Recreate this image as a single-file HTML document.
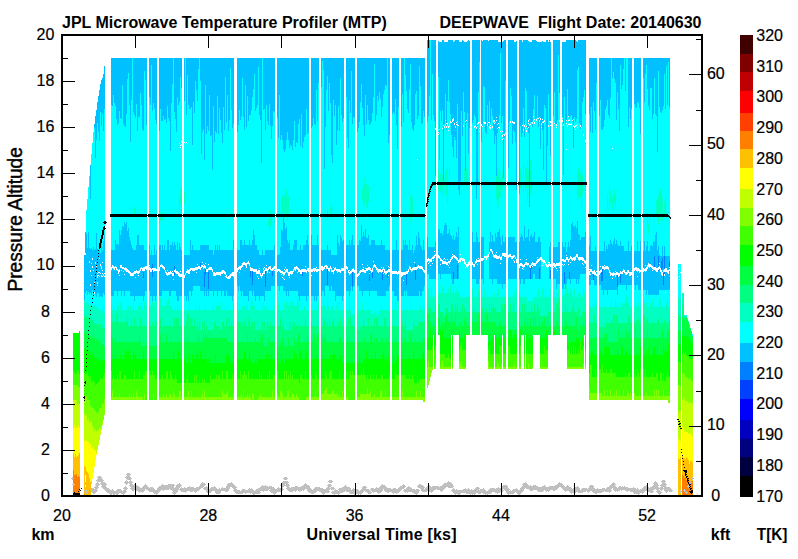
<!DOCTYPE html>
<html><head><meta charset="utf-8"><title>JPL Microwave Temperature Profiler (MTP)</title>
<style>
html,body{margin:0;padding:0;background:#fff;overflow:hidden}
svg{display:block}
text{font-family:"Liberation Sans",Arial,Helvetica,sans-serif;fill:#000}
.t{font-size:16px;stroke:#000;stroke-width:.2px}
.b{font-size:16px;font-weight:bold}
.p{font-size:20px;stroke:#000;stroke-width:.45px}
</style></head>
<body>
<svg width="798" height="559" viewBox="0 0 798 559">
<rect width="798" height="559" fill="#fff"/>
<g shape-rendering="crispEdges" fill="none" stroke-width="1">
<path stroke="#c0c0c0" d="M71.5 478v1M72.5 477v3M72.5 484v1M73.5 478v1M73.5 483v3M74.5 484v1M84.5 490v1M85.5 482v3M85.5 489v4M86.5 490v4M87.5 492v1M91.5 488v4M92.5 488v5M93.5 488v6M94.5 487v1M94.5 489v5M95.5 484v1M95.5 486v7M96.5 480v1M96.5 483v9M97.5 477v1M97.5 479v10M97.5 490v1M98.5 476v6M98.5 483v3M98.5 487v1M99.5 476v6M99.5 484v1M100.5 476v6M100.5 483v1M101.5 477v8M101.5 486v1M102.5 479v9M103.5 480v1M103.5 482v7M104.5 482v8M105.5 483v8M106.5 484v1M106.5 487v5M107.5 488v5M108.5 488v5M109.5 489v5M110.5 490v5M111.5 490v5M112.5 489v5M113.5 490v5M114.5 491v4M115.5 491v3M116.5 490v5M117.5 489v6M118.5 489v5M119.5 489v4M120.5 489v4M121.5 490v4M122.5 491v3M123.5 488v1M123.5 490v5M124.5 482v1M124.5 487v7M125.5 477v1M125.5 481v3M125.5 486v7M126.5 474v1M126.5 476v3M126.5 480v5M126.5 487v3M126.5 491v1M127.5 473v7M127.5 481v3M127.5 488v1M128.5 473v7M128.5 482v1M129.5 473v7M129.5 481v3M129.5 485v1M130.5 474v1M130.5 477v10M130.5 488v1M131.5 478v1M131.5 481v9M132.5 482v1M132.5 484v7M133.5 485v6M134.5 484v6M135.5 484v6M136.5 485v6M137.5 486v5M138.5 486v6M139.5 487v6M140.5 488v4M141.5 488v4M142.5 487v6M143.5 486v6M144.5 485v6M145.5 484v5M146.5 485v5M147.5 486v4M148.5 487v4M149.5 488v4M150.5 487v5M151.5 487v5M152.5 487v5M153.5 488v5M154.5 489v5M155.5 490v4M156.5 490v5M157.5 488v6M158.5 487v6M159.5 486v6M160.5 486v5M161.5 485v5M162.5 484v6M163.5 485v6M164.5 485v5M165.5 485v5M166.5 485v5M167.5 485v5M168.5 484v6M169.5 484v5M170.5 484v6M171.5 484v6M172.5 484v7M172.5 492v1M173.5 484v10M174.5 485v1M174.5 488v7M175.5 487v7M176.5 485v8M177.5 484v8M178.5 484v6M179.5 483v5M179.5 489v1M180.5 484v3M180.5 488v3M181.5 485v1M181.5 487v5M182.5 488v4M183.5 488v4M184.5 487v5M185.5 488v5M186.5 488v4M187.5 487v4M188.5 487v4M189.5 486v5M190.5 487v5M191.5 487v5M192.5 487v5M193.5 487v4M194.5 488v4M195.5 488v5M196.5 487v5M197.5 487v4M198.5 487v4M199.5 486v4M200.5 484v5M201.5 483v5M202.5 482v6M203.5 483v4M203.5 488v1M204.5 483v3M204.5 487v3M205.5 484v1M205.5 487v3M206.5 486v6M207.5 487v6M208.5 488v5M209.5 489v4M210.5 488v5M211.5 487v5M212.5 487v4M213.5 487v4M214.5 486v5M215.5 487v6M216.5 488v6M217.5 489v5M218.5 489v5M219.5 488v6M220.5 489v4M221.5 488v3M222.5 487v4M223.5 488v3M224.5 488v3M225.5 488v4M226.5 486v6M227.5 484v8M228.5 483v8M229.5 483v6M230.5 483v4M231.5 482v5M232.5 483v5M233.5 484v5M233.5 490v1M234.5 485v7M235.5 486v7M236.5 487v1M236.5 489v5M237.5 490v4M238.5 490v4M239.5 490v4M240.5 491v3M241.5 490v4M242.5 489v5M243.5 489v4M244.5 489v4M245.5 490v4M246.5 490v3M247.5 490v3M248.5 489v4M249.5 488v5M250.5 489v5M251.5 488v5M252.5 489v5M253.5 490v5M254.5 491v4M255.5 490v4M256.5 489v5M257.5 489v5M258.5 488v6M259.5 488v6M260.5 487v4M260.5 492v1M261.5 486v5M262.5 485v6M263.5 486v6M264.5 486v5M265.5 485v6M266.5 486v5M267.5 486v5M268.5 487v3M269.5 486v3M269.5 490v1M270.5 486v6M271.5 486v7M272.5 487v6M273.5 487v7M274.5 488v7M275.5 489v5M276.5 489v4M277.5 488v4M278.5 487v5M279.5 488v4M280.5 485v1M280.5 488v4M281.5 483v4M281.5 488v3M282.5 482v9M283.5 478v1M283.5 481v6M283.5 489v1M284.5 477v3M284.5 481v5M285.5 477v3M285.5 481v3M285.5 485v1M286.5 477v3M286.5 481v6M286.5 488v1M287.5 478v1M287.5 481v9M288.5 482v1M288.5 484v7M289.5 485v1M289.5 487v5M290.5 488v4M291.5 487v5M292.5 487v5M293.5 487v4M294.5 487v4M295.5 486v6M296.5 486v5M297.5 486v4M298.5 487v4M299.5 487v5M300.5 487v4M301.5 486v5M302.5 486v4M303.5 485v6M304.5 484v6M305.5 483v6M306.5 484v5M307.5 485v6M308.5 485v7M309.5 486v7M310.5 488v5M311.5 489v5M312.5 490v4M313.5 489v5M314.5 488v5M315.5 487v6M316.5 487v5M317.5 487v4M318.5 487v4M319.5 487v5M320.5 488v4M321.5 488v5M322.5 488v6M323.5 489v6M324.5 489v5M325.5 489v4M326.5 488v5M327.5 485v1M327.5 487v6M328.5 481v1M328.5 484v9M329.5 480v3M329.5 484v6M329.5 491v1M330.5 480v3M330.5 484v3M330.5 488v1M331.5 480v3M331.5 485v1M331.5 487v3M331.5 492v1M332.5 481v1M332.5 487v3M332.5 491v3M333.5 487v3M333.5 491v3M334.5 488v1M334.5 490v5M335.5 489v5M336.5 490v4M337.5 490v4M338.5 489v1M338.5 491v4M339.5 488v6M340.5 488v5M341.5 488v5M342.5 487v6M343.5 487v5M344.5 486v6M345.5 485v6M346.5 486v6M347.5 487v5M348.5 487v5M349.5 487v6M350.5 488v6M351.5 490v4M352.5 489v5M353.5 488v6M354.5 489v6M355.5 489v6M356.5 489v5M357.5 489v5M358.5 490v5M359.5 491v3M360.5 490v5M361.5 489v5M362.5 487v6M363.5 486v6M364.5 486v5M365.5 486v6M366.5 487v1M366.5 489v3M367.5 489v4M368.5 489v5M369.5 490v4M370.5 489v1M370.5 491v3M371.5 488v3M371.5 492v1M372.5 488v4M373.5 488v5M374.5 489v3M375.5 488v4M376.5 487v5M377.5 488v5M378.5 488v6M379.5 487v6M380.5 486v7M381.5 485v7M382.5 484v7M383.5 485v4M384.5 485v6M385.5 486v6M386.5 487v5M387.5 488v5M388.5 488v5M389.5 488v4M390.5 488v4M391.5 489v3M392.5 489v4M393.5 488v6M394.5 488v5M395.5 488v5M396.5 489v5M397.5 489v4M398.5 488v5M399.5 487v5M400.5 486v5M401.5 486v4M402.5 485v4M403.5 484v5M403.5 490v1M404.5 485v3M404.5 489v3M405.5 486v1M405.5 489v4M406.5 488v4M407.5 487v6M408.5 486v6M409.5 487v5M410.5 487v5M411.5 488v4M412.5 489v4M413.5 489v4M414.5 489v5M415.5 490v4M416.5 489v6M417.5 486v1M417.5 489v5M418.5 485v3M418.5 489v4M419.5 484v4M419.5 490v1M420.5 484v5M421.5 485v6M422.5 485v7M423.5 486v6M424.5 487v1M424.5 489v3M425.5 488v4M426.5 487v5M427.5 486v5M428.5 485v6M429.5 485v7M430.5 486v6M431.5 487v6M432.5 486v6M433.5 486v5M434.5 486v4M435.5 486v4M436.5 486v3M437.5 486v4M438.5 486v4M439.5 487v3M440.5 486v5M441.5 486v6M442.5 485v6M443.5 484v6M444.5 483v6M445.5 483v5M446.5 483v4M447.5 482v5M448.5 481v7M449.5 482v6M450.5 482v6M451.5 483v5M451.5 490v1M452.5 484v4M452.5 489v3M453.5 486v1M453.5 488v5M454.5 489v5M455.5 490v5M456.5 489v5M457.5 490v4M458.5 490v5M459.5 490v5M460.5 490v4M461.5 490v3M462.5 490v3M463.5 489v4M464.5 489v4M465.5 488v5M466.5 489v5M467.5 489v5M468.5 488v6M469.5 489v5M470.5 490v5M471.5 489v5M472.5 490v5M473.5 490v4M474.5 489v6M475.5 488v6M476.5 487v6M477.5 487v6M478.5 487v7M479.5 488v1M479.5 490v4M480.5 489v5M481.5 489v4M482.5 489v4M483.5 488v6M484.5 489v5M485.5 490v5M486.5 491v3M487.5 491v4M488.5 490v4M489.5 489v5M490.5 488v6M491.5 488v5M492.5 488v4M493.5 488v4M494.5 488v4M495.5 489v4M496.5 488v5M497.5 488v6M498.5 487v6M499.5 488v5M500.5 488v4M501.5 487v5M502.5 486v6M503.5 485v4M503.5 490v1M504.5 485v5M505.5 485v6M506.5 485v8M507.5 486v8M508.5 488v7M509.5 489v1M509.5 491v3M510.5 490v4M511.5 491v3M512.5 490v4M513.5 489v5M514.5 489v4M515.5 489v3M516.5 488v5M517.5 489v5M518.5 490v5M519.5 490v5M520.5 488v6M521.5 487v6M522.5 484v1M522.5 486v6M523.5 483v8M524.5 483v6M525.5 482v6M526.5 483v6M527.5 484v5M528.5 485v4M529.5 486v4M530.5 485v6M531.5 486v5M532.5 486v5M533.5 485v5M534.5 485v5M535.5 485v5M536.5 486v4M537.5 486v5M538.5 487v5M539.5 487v5M540.5 487v5M541.5 487v5M542.5 486v6M543.5 486v5M544.5 485v5M545.5 486v5M546.5 487v5M547.5 487v4M548.5 487v5M549.5 486v5M550.5 486v4M551.5 486v4M552.5 486v4M553.5 486v5M554.5 486v5M555.5 485v5M556.5 485v5M557.5 484v5M558.5 483v5M559.5 482v5M560.5 483v4M561.5 483v5M562.5 484v5M563.5 485v5M564.5 486v5M565.5 487v5M566.5 486v5M567.5 485v6M568.5 486v5M569.5 487v5M570.5 487v6M571.5 488v6M572.5 489v4M573.5 488v5M574.5 487v7M575.5 487v6M576.5 487v5M577.5 486v6M578.5 487v6M579.5 488v5M580.5 490v3M581.5 489v4M582.5 488v5M583.5 488v4M584.5 488v4M585.5 488v4M586.5 488v3M587.5 489v3M588.5 488v5M589.5 486v6M590.5 485v6M591.5 485v6M592.5 485v7M593.5 486v7M594.5 488v5M595.5 489v5M596.5 489v5M597.5 488v5M598.5 489v4M599.5 489v4M600.5 489v4M601.5 489v4M602.5 488v4M603.5 488v4M604.5 488v3M605.5 489v3M606.5 488v4M607.5 487v5M608.5 487v5M609.5 486v7M610.5 485v7M611.5 484v5M611.5 490v1M612.5 483v5M613.5 482v8M614.5 483v8M615.5 484v1M615.5 486v6M616.5 487v4M617.5 488v4M618.5 487v4M619.5 486v5M620.5 486v4M621.5 487v4M622.5 486v4M623.5 487v3M624.5 486v4M625.5 487v4M626.5 487v4M627.5 487v5M628.5 488v3M629.5 488v3M630.5 488v4M631.5 488v4M632.5 488v4M633.5 487v6M634.5 488v6M635.5 488v6M636.5 489v5M637.5 488v6M638.5 489v6M639.5 490v4M640.5 489v4M641.5 489v4M642.5 488v6M643.5 487v6M644.5 486v6M645.5 486v5M646.5 485v6M647.5 486v5M648.5 487v5M649.5 488v4M650.5 487v6M651.5 487v6M652.5 486v7M653.5 483v1M653.5 485v5M653.5 491v1M654.5 482v8M655.5 481v8M656.5 482v8M656.5 491v1M657.5 483v10M658.5 485v1M658.5 487v7M659.5 488v1M659.5 490v5M660.5 485v1M660.5 487v3M660.5 491v3M661.5 481v1M661.5 484v7M661.5 492v1M662.5 480v10M663.5 480v7M663.5 488v1M664.5 480v11M665.5 481v1M665.5 483v9M666.5 484v1M666.5 487v6M667.5 487v5M668.5 487v4M669.5 487v5M670.5 488v4M671.5 489v3M672.5 490v1M679.5 491v1M680.5 490v3M681.5 491v1M683.5 490v1M684.5 489v3M685.5 490v1M685.5 492v1M686.5 491v3M687.5 486v1M687.5 492v1M688.5 485v3M689.5 482v1M689.5 486v1M690.5 481v3M691.5 478v1M691.5 482v1M692.5 477v3M693.5 478v1"/>
<path stroke="#00ff00" d="M73.5 333v38M74.5 333v39M75.5 333v41M76.5 333v41M77.5 333v37M78.5 333v37M79.5 331v43M84.5 348v25M85.5 349v21M85.5 371v3M86.5 350v4M86.5 355v3M86.5 359v3M86.5 363v3M86.5 367v7M87.5 351v21M88.5 351v25M89.5 352v26M90.5 355v21M91.5 355v26M92.5 354v28M93.5 354v26M94.5 358v24M95.5 357v28M96.5 359v25M97.5 357v26M98.5 359v23M99.5 360v21M100.5 362v16M101.5 359v20M102.5 360v19M103.5 361v15M104.5 360v13M111.5 359v12M112.5 359v20M113.5 355v20M114.5 359v20M115.5 355v24M116.5 359v20M117.5 359v16M118.5 359v20M119.5 359v12M120.5 355v16M121.5 359v20M122.5 359v20M123.5 359v20M124.5 355v20M125.5 359v16M126.5 351v28M127.5 359v20M128.5 351v28M129.5 359v20M130.5 355v24M131.5 359v20M132.5 359v20M133.5 351v28M134.5 355v16M135.5 355v24M136.5 359v20M137.5 359v20M138.5 359v20M139.5 359v12M140.5 359v20M141.5 359v20M142.5 359v20M143.5 351v24M144.5 359v16M145.5 359v12M146.5 359v12M149.5 359v12M150.5 359v16M151.5 359v16M152.5 359v12M153.5 359v16M154.5 359v16M155.5 359v20M156.5 359v20M159.5 359v20M160.5 359v20M161.5 359v20M162.5 359v16M163.5 359v20M164.5 359v20M165.5 359v20M166.5 359v12M167.5 359v12M168.5 359v20M169.5 359v20M170.5 359v12M171.5 359v16M172.5 359v20M173.5 351v28M174.5 359v20M175.5 359v16M176.5 359v20M177.5 359v24M178.5 351v32M179.5 359v24M180.5 359v24M181.5 359v24M184.5 359v24M185.5 363v20M186.5 363v16M187.5 363v12M188.5 355v28M189.5 363v20M190.5 363v20M191.5 363v20M192.5 355v28M193.5 359v24M194.5 359v16M195.5 359v24M196.5 355v20M197.5 351v32M198.5 359v24M199.5 359v20M200.5 351v32M201.5 359v24M202.5 359v20M203.5 359v24M204.5 359v20M205.5 359v24M206.5 359v24M207.5 363v20M208.5 359v24M209.5 363v20M210.5 363v12M211.5 363v16M212.5 363v16M213.5 363v16M214.5 363v16M215.5 355v24M216.5 363v12M217.5 363v16M218.5 363v12M219.5 363v12M220.5 363v16M221.5 363v16M222.5 363v8M223.5 363v16M224.5 363v16M225.5 363v16M226.5 355v16M227.5 359v12M228.5 355v24M229.5 355v24M230.5 363v16M231.5 359v20M232.5 363v12M233.5 355v24M237.5 359v20M238.5 359v20M239.5 359v20M240.5 359v12M241.5 359v20M242.5 359v16M243.5 359v16M244.5 351v20M245.5 351v24M246.5 359v16M247.5 359v20M248.5 359v12M249.5 351v28M250.5 359v20M251.5 363v16M252.5 363v16M253.5 363v16M254.5 363v16M255.5 359v20M256.5 363v16M257.5 359v20M258.5 359v20M259.5 359v12M260.5 359v20M261.5 359v16M262.5 359v20M263.5 359v20M264.5 359v20M265.5 359v20M266.5 355v24M267.5 359v16M268.5 355v24M269.5 359v12M270.5 359v20M271.5 355v24M272.5 359v20M273.5 359v16M274.5 359v16M277.5 351v20M278.5 359v20M279.5 363v16M280.5 363v16M281.5 355v24M282.5 359v20M283.5 363v16M284.5 363v8M285.5 359v20M286.5 359v12M287.5 359v20M288.5 359v16M289.5 359v20M290.5 359v12M291.5 359v20M292.5 359v16M293.5 359v20M294.5 351v28M295.5 359v20M296.5 355v24M297.5 359v20M298.5 359v20M299.5 351v32M300.5 351v24M301.5 351v24M302.5 359v20M303.5 359v20M304.5 359v20M305.5 355v16M306.5 351v28M307.5 359v20M308.5 359v20M311.5 359v16M312.5 359v20M313.5 359v20M314.5 359v20M315.5 355v16M316.5 359v16M317.5 355v24M318.5 359v20M321.5 359v20M322.5 359v20M323.5 355v24M324.5 359v20M325.5 359v12M326.5 359v16M327.5 359v20M328.5 359v20M329.5 359v12M330.5 355v16M331.5 355v16M332.5 355v24M333.5 351v28M334.5 355v24M335.5 359v20M336.5 359v20M337.5 359v20M338.5 359v20M339.5 359v12M340.5 355v24M341.5 355v24M342.5 363v16M343.5 363v16M346.5 363v16M347.5 363v8M348.5 363v16M349.5 363v12M350.5 363v8M351.5 363v12M352.5 363v8M353.5 363v12M354.5 363v12M357.5 363v12M358.5 363v12M359.5 355v20M360.5 363v12M361.5 363v8M362.5 363v12M363.5 359v8M364.5 359v16M365.5 359v16M366.5 351v28M367.5 359v16M368.5 359v20M369.5 359v20M370.5 359v16M371.5 355v24M372.5 359v20M373.5 359v16M374.5 359v20M375.5 351v28M376.5 359v16M377.5 359v20M378.5 359v20M379.5 359v20M380.5 359v20M381.5 359v16M382.5 355v20M383.5 351v28M384.5 359v20M385.5 363v16M386.5 359v20M387.5 363v16M388.5 355v24M389.5 363v12M392.5 363v16M393.5 355v24M394.5 363v16M395.5 359v12M396.5 359v16M397.5 355v20M398.5 355v20M401.5 359v16M402.5 359v16M403.5 359v16M404.5 359v16M405.5 359v16M406.5 359v20M407.5 359v20M408.5 359v20M409.5 355v20M410.5 359v20M411.5 359v20M412.5 359v16M413.5 351v28M414.5 359v24M415.5 359v24M416.5 359v24M417.5 359v20M418.5 359v24M419.5 359v20M420.5 359v20M421.5 359v20M422.5 355v24M423.5 351v28M424.5 359v20M427.5 338v12M428.5 338v12M429.5 338v12M430.5 330v20M431.5 338v12M432.5 338v8M434.5 334v16M435.5 338v8M440.5 330v24M441.5 338v16M442.5 330v24M443.5 338v16M444.5 338v16M445.5 334v24M446.5 338v20M447.5 338v20M448.5 338v16M449.5 338v20M450.5 338v20M451.5 330v5M452.5 338v16M453.5 330v5M459.5 330v20M460.5 338v8M461.5 338v4M462.5 338v12M463.5 338v12M464.5 334v16M465.5 338v12M466.5 334v1M486.5 334v1M488.5 342v8M489.5 334v12M490.5 342v12M491.5 338v16M492.5 338v16M493.5 338v16M495.5 334v20M496.5 338v16M497.5 338v16M498.5 338v16M499.5 334v12M500.5 338v8M501.5 338v8M503.5 338v16M504.5 338v16M505.5 334v20M508.5 338v8M509.5 330v16M510.5 330v24M511.5 330v24M512.5 338v16M513.5 338v16M514.5 334v20M515.5 330v24M516.5 338v16M519.5 338v16M520.5 330v16M521.5 334v1M524.5 338v16M526.5 334v20M527.5 338v12M528.5 338v16M529.5 338v16M530.5 334v20M531.5 338v16M532.5 338v16M535.5 334v1M540.5 338v16M541.5 338v16M542.5 338v16M543.5 338v16M544.5 338v8M545.5 338v16M546.5 330v20M547.5 338v12M549.5 334v1M553.5 334v1M554.5 330v5M559.5 334v1M563.5 334v1M564.5 334v1M567.5 342v8M568.5 342v8M570.5 342v12M571.5 342v4M572.5 342v12M573.5 342v4M574.5 342v12M575.5 342v4M576.5 338v16M577.5 342v12M578.5 338v12M579.5 342v12M581.5 342v8M582.5 338v12M583.5 342v4M585.5 342v8M589.5 355v18M590.5 355v10M591.5 351v14M592.5 351v26M593.5 355v22M594.5 355v22M595.5 355v14M596.5 355v22M599.5 355v14M600.5 351v18M601.5 355v18M602.5 355v10M603.5 355v18M604.5 347v26M605.5 355v18M606.5 347v22M607.5 355v18M608.5 347v26M609.5 355v18M610.5 355v14M611.5 355v14M612.5 355v18M613.5 355v18M614.5 355v18M615.5 355v18M616.5 355v22M617.5 347v30M618.5 355v22M619.5 355v22M620.5 355v22M621.5 347v30M622.5 347v30M623.5 355v22M624.5 355v22M625.5 351v22M626.5 351v26M627.5 355v22M628.5 355v18M629.5 351v22M630.5 355v22M631.5 355v22M634.5 355v22M635.5 355v14M636.5 355v22M637.5 351v18M638.5 355v18M639.5 355v22M640.5 347v22M643.5 355v14M644.5 355v22M645.5 355v14M646.5 351v26M647.5 355v22M648.5 347v30M649.5 355v22M650.5 355v22M651.5 355v22M652.5 355v18M653.5 347v30M654.5 347v30M655.5 347v30M656.5 355v18M657.5 347v26M658.5 355v26M659.5 355v26M660.5 355v18M661.5 355v18M662.5 355v26M663.5 347v26M664.5 351v30M665.5 347v34M666.5 351v26M667.5 351v22M668.5 343v34M669.5 351v26M678.5 344v18M679.5 344v17M680.5 345v18M682.5 336v18M683.5 333v18M684.5 336v18M685.5 335v17M686.5 337v18M687.5 336v21M688.5 337v20M689.5 339v20M690.5 340v19M691.5 343v17M692.5 342v16"/>
<path stroke="#40ff00" d="M73.5 371v14M74.5 372v13M75.5 374v11M76.5 374v11M77.5 370v15M78.5 370v17M79.5 374v13M84.5 373v9M84.5 383v2M84.5 386v10M85.5 374v7M85.5 384v13M86.5 374v22M87.5 372v28M88.5 376v24M89.5 378v22M90.5 376v30M91.5 381v25M92.5 382v26M93.5 380v28M94.5 382v29M95.5 385v25M96.5 384v29M97.5 383v29M98.5 382v30M99.5 381v27M100.5 378v30M101.5 379v25M102.5 379v24M103.5 376v28M104.5 373v26M111.5 371v26M112.5 379v12M113.5 375v22M114.5 379v18M115.5 379v18M116.5 379v18M117.5 375v22M118.5 379v18M119.5 371v23M120.5 371v26M121.5 379v18M122.5 379v18M123.5 379v18M124.5 375v22M125.5 375v22M126.5 379v18M127.5 379v18M128.5 379v18M129.5 379v15M130.5 379v18M131.5 379v15M132.5 379v18M133.5 379v15M134.5 371v26M135.5 379v18M136.5 379v12M137.5 379v15M138.5 379v18M139.5 371v26M140.5 379v18M141.5 379v18M142.5 379v18M143.5 375v25M144.5 375v19M145.5 371v29M146.5 371v29M149.5 371v29M150.5 375v25M151.5 375v25M152.5 371v29M153.5 375v19M154.5 375v25M155.5 379v21M156.5 379v21M159.5 379v18M160.5 379v18M161.5 379v18M162.5 375v22M163.5 379v15M164.5 379v18M165.5 379v18M166.5 371v23M167.5 371v26M168.5 379v18M169.5 379v15M170.5 371v23M171.5 375v22M172.5 379v18M173.5 379v12M174.5 379v15M175.5 375v22M176.5 379v18M177.5 383v14M178.5 383v14M179.5 383v8M180.5 383v8M181.5 383v14M184.5 383v14M185.5 383v14M186.5 379v18M187.5 375v22M188.5 383v8M189.5 383v14M190.5 383v14M191.5 383v8M192.5 383v14M193.5 383v14M194.5 375v22M195.5 383v14M196.5 375v22M197.5 383v14M198.5 383v14M199.5 379v18M200.5 383v14M201.5 383v14M202.5 379v15M203.5 383v14M204.5 379v12M205.5 383v14M206.5 383v14M207.5 383v14M208.5 383v14M209.5 383v14M210.5 375v22M211.5 379v18M212.5 379v18M213.5 379v18M214.5 379v18M215.5 379v18M216.5 375v22M217.5 379v18M218.5 375v22M219.5 375v22M220.5 379v18M221.5 379v18M222.5 371v20M223.5 379v15M224.5 379v15M225.5 379v15M226.5 371v23M227.5 371v20M228.5 379v18M229.5 379v18M230.5 379v18M231.5 379v18M232.5 375v22M233.5 379v15M237.5 379v18M238.5 379v18M239.5 379v18M240.5 371v26M241.5 379v15M242.5 375v22M243.5 375v16M244.5 371v26M245.5 375v22M246.5 375v22M247.5 379v15M248.5 371v26M249.5 379v15M250.5 379v18M251.5 379v21M252.5 379v15M253.5 379v15M254.5 379v21M255.5 379v21M256.5 379v21M257.5 379v21M258.5 379v18M259.5 371v26M260.5 379v15M261.5 375v22M262.5 379v18M263.5 379v18M264.5 379v18M265.5 379v18M266.5 379v18M267.5 375v22M268.5 379v18M269.5 371v26M270.5 379v18M271.5 379v18M272.5 379v12M273.5 375v22M274.5 375v22M277.5 371v23M278.5 379v18M279.5 379v18M280.5 379v12M281.5 379v12M282.5 379v15M283.5 379v18M284.5 371v26M285.5 379v18M286.5 371v26M287.5 379v12M288.5 375v16M289.5 379v18M290.5 371v26M291.5 379v18M292.5 375v19M293.5 379v15M294.5 379v18M295.5 379v18M296.5 379v15M297.5 379v18M298.5 379v18M299.5 383v17M300.5 375v25M301.5 375v25M302.5 379v21M303.5 379v21M304.5 379v21M305.5 371v29M306.5 379v18M307.5 379v18M308.5 379v18M311.5 375v22M312.5 379v18M313.5 379v18M314.5 379v18M315.5 371v20M316.5 375v22M317.5 379v18M318.5 379v18M321.5 379v15M322.5 379v15M323.5 379v15M324.5 379v12M325.5 371v20M326.5 375v13M327.5 379v15M328.5 379v15M329.5 371v23M330.5 371v23M331.5 371v23M332.5 379v12M333.5 379v12M334.5 379v15M335.5 379v15M336.5 379v15M337.5 379v15M338.5 379v18M339.5 371v20M340.5 379v18M341.5 379v18M342.5 379v12M343.5 379v18M346.5 379v18M347.5 371v26M348.5 379v21M349.5 375v25M350.5 371v29M351.5 375v25M352.5 371v29M353.5 375v25M354.5 375v25M357.5 375v22M358.5 375v22M359.5 375v22M360.5 375v19M361.5 371v23M362.5 375v19M363.5 367v27M364.5 375v19M365.5 375v19M366.5 379v15M367.5 375v13M368.5 379v15M369.5 379v15M370.5 375v16M371.5 379v18M372.5 379v18M373.5 375v22M374.5 379v15M375.5 379v18M376.5 375v22M377.5 379v18M378.5 379v18M379.5 379v18M380.5 379v12M381.5 375v16M382.5 375v22M383.5 379v18M384.5 379v18M385.5 379v12M386.5 379v18M387.5 379v18M388.5 379v18M389.5 375v22M392.5 379v18M393.5 379v18M394.5 379v18M395.5 371v26M396.5 375v22M397.5 375v22M398.5 375v22M401.5 375v22M402.5 375v16M403.5 375v22M404.5 375v22M405.5 375v22M406.5 379v18M407.5 379v18M408.5 379v18M409.5 375v22M410.5 379v18M411.5 379v18M412.5 375v22M413.5 379v18M414.5 383v14M415.5 383v14M416.5 383v8M417.5 379v18M418.5 383v14M419.5 379v18M420.5 379v12M421.5 379v18M422.5 379v18M423.5 379v18M424.5 379v18M427.5 350v17M428.5 350v11M429.5 350v17M430.5 350v17M431.5 350v17M432.5 346v21M434.5 350v17M435.5 346v18M440.5 354v13M441.5 354v10M442.5 354v7M443.5 354v13M444.5 354v13M445.5 358v9M446.5 358v9M447.5 358v9M448.5 354v13M449.5 358v9M450.5 358v9M452.5 354v13M459.5 350v11M460.5 346v18M461.5 342v19M462.5 350v17M463.5 350v17M464.5 350v17M465.5 350v17M488.5 350v11M489.5 346v21M490.5 354v13M491.5 354v13M492.5 354v13M493.5 354v13M495.5 354v13M496.5 354v13M497.5 354v7M498.5 354v10M499.5 346v21M500.5 346v21M501.5 346v18M503.5 354v13M504.5 354v13M505.5 354v13M508.5 346v21M509.5 346v21M510.5 354v13M511.5 354v13M512.5 354v13M513.5 354v13M514.5 354v10M515.5 354v13M516.5 354v13M519.5 354v13M520.5 346v21M524.5 354v13M526.5 354v15M527.5 350v19M528.5 354v10M529.5 354v15M530.5 354v15M531.5 354v15M532.5 354v13M540.5 354v13M541.5 354v7M542.5 354v13M543.5 354v13M544.5 346v21M545.5 354v13M546.5 350v17M547.5 350v17M567.5 350v17M568.5 350v17M569.5 342v25M570.5 354v13M571.5 346v21M572.5 354v13M573.5 346v21M574.5 354v13M575.5 346v21M576.5 354v13M577.5 354v13M578.5 350v17M579.5 354v13M580.5 342v25M581.5 350v17M582.5 350v17M583.5 346v18M585.5 350v14M589.5 373v14M590.5 365v28M591.5 365v28M592.5 377v16M593.5 377v16M594.5 377v16M595.5 369v24M596.5 377v16M599.5 369v24M600.5 369v24M601.5 373v20M602.5 365v31M603.5 373v23M604.5 373v17M605.5 373v23M606.5 369v27M607.5 373v17M608.5 373v23M609.5 373v23M610.5 369v21M611.5 369v27M612.5 373v23M613.5 373v23M614.5 373v20M615.5 373v23M616.5 377v13M617.5 377v19M618.5 377v19M619.5 377v13M620.5 377v19M621.5 377v19M622.5 377v19M623.5 377v13M624.5 377v19M625.5 373v23M626.5 377v19M627.5 377v13M628.5 373v20M629.5 373v23M630.5 377v16M631.5 377v19M634.5 377v16M635.5 369v27M636.5 377v19M637.5 369v27M638.5 373v23M639.5 377v16M640.5 369v27M643.5 369v27M644.5 377v19M645.5 369v27M646.5 377v16M647.5 377v19M648.5 377v19M649.5 377v19M650.5 377v19M651.5 377v19M652.5 373v23M653.5 377v19M654.5 377v13M655.5 377v19M656.5 373v17M657.5 373v23M658.5 381v9M659.5 381v15M660.5 373v23M661.5 373v23M662.5 381v15M663.5 373v17M664.5 381v15M665.5 381v15M666.5 377v19M667.5 373v23M668.5 377v19M669.5 377v19M678.5 362v23M679.5 361v24M680.5 363v23M682.5 354v20M683.5 351v22M684.5 354v20M685.5 352v25M686.5 355v22M687.5 357v21M688.5 357v22M689.5 359v19M690.5 359v20M691.5 360v21M692.5 358v23"/>
<path stroke="#80ff00" d="M73.5 385v15M74.5 385v15M75.5 385v15M76.5 385v15M77.5 385v19M78.5 387v17M79.5 387v17M84.5 399v1M84.5 401v13M85.5 397v19M86.5 396v19M87.5 400v20M88.5 400v19M89.5 400v22M90.5 406v16M91.5 406v16M92.5 408v18M93.5 408v19M94.5 411v20M95.5 410v19M96.5 413v18M97.5 412v18M98.5 412v18M99.5 408v20M100.5 408v20M101.5 404v22M102.5 403v19M103.5 404v16M104.5 399v16M111.5 397v3M112.5 391v9M113.5 397v3M114.5 397v3M115.5 397v3M116.5 397v3M117.5 397v3M118.5 397v3M119.5 394v6M120.5 397v3M121.5 397v3M122.5 397v3M123.5 397v3M124.5 397v3M125.5 397v3M126.5 397v3M127.5 397v3M128.5 397v3M129.5 394v6M130.5 397v3M131.5 394v6M132.5 397v3M133.5 394v6M134.5 397v3M135.5 397v3M136.5 391v9M137.5 394v6M138.5 397v3M139.5 397v3M140.5 397v3M141.5 397v3M142.5 397v3M144.5 394v6M153.5 394v6M159.5 397v3M160.5 397v3M161.5 397v3M162.5 397v3M163.5 394v6M164.5 397v3M165.5 397v3M166.5 394v6M167.5 397v3M168.5 397v3M169.5 394v6M170.5 394v6M171.5 397v3M172.5 397v3M173.5 391v9M174.5 394v6M175.5 397v3M176.5 397v3M177.5 397v3M178.5 397v3M179.5 391v9M180.5 391v9M181.5 397v3M184.5 397v3M185.5 397v3M186.5 397v3M187.5 397v3M188.5 391v9M189.5 397v3M190.5 397v3M191.5 391v9M192.5 397v3M193.5 397v3M194.5 397v3M195.5 397v3M196.5 397v3M197.5 397v3M198.5 397v3M199.5 397v3M200.5 397v3M201.5 397v3M202.5 394v6M203.5 397v3M204.5 391v9M205.5 397v3M206.5 397v3M207.5 397v3M208.5 397v3M209.5 397v3M210.5 397v3M211.5 397v3M212.5 397v3M213.5 397v3M214.5 397v3M215.5 397v3M216.5 397v3M217.5 397v3M218.5 397v3M219.5 397v3M220.5 397v3M221.5 397v3M222.5 391v9M223.5 394v6M224.5 394v6M225.5 394v6M226.5 394v6M227.5 391v9M228.5 397v3M229.5 397v3M230.5 397v3M231.5 397v3M232.5 397v3M233.5 394v6M237.5 397v3M238.5 397v3M239.5 397v3M240.5 397v3M241.5 394v6M242.5 397v3M243.5 391v9M244.5 397v3M245.5 397v3M246.5 397v3M247.5 394v6M248.5 397v3M249.5 394v6M250.5 397v3M252.5 394v6M253.5 394v6M258.5 397v3M259.5 397v3M260.5 394v6M261.5 397v3M262.5 397v3M263.5 397v3M264.5 397v3M265.5 397v3M266.5 397v3M267.5 397v3M268.5 397v3M269.5 397v3M270.5 397v3M271.5 397v3M272.5 391v9M273.5 397v3M274.5 397v3M277.5 394v6M278.5 397v3M279.5 397v3M280.5 391v9M281.5 391v9M282.5 394v6M283.5 397v3M284.5 397v3M285.5 397v3M286.5 397v3M287.5 391v9M288.5 391v9M289.5 397v3M290.5 397v3M291.5 397v3M292.5 394v6M293.5 394v6M294.5 397v3M295.5 397v3M296.5 394v6M297.5 397v3M298.5 397v3M306.5 397v3M307.5 397v3M308.5 397v3M311.5 397v3M312.5 397v3M313.5 397v3M314.5 397v3M315.5 391v9M316.5 397v3M317.5 397v3M318.5 397v3M321.5 394v6M322.5 394v6M323.5 394v6M324.5 391v9M325.5 391v9M326.5 388v12M327.5 394v6M328.5 394v6M329.5 394v6M330.5 394v6M331.5 394v6M332.5 391v9M333.5 391v9M334.5 394v6M335.5 394v6M336.5 394v6M337.5 394v6M338.5 397v3M339.5 391v9M340.5 397v3M341.5 397v3M342.5 391v9M343.5 397v3M346.5 397v3M347.5 397v3M357.5 397v3M358.5 397v3M359.5 397v3M360.5 394v6M361.5 394v6M362.5 394v6M363.5 394v6M364.5 394v6M365.5 394v6M366.5 394v6M367.5 388v12M368.5 394v6M369.5 394v6M370.5 391v9M371.5 397v3M372.5 397v3M373.5 397v3M374.5 394v6M375.5 397v3M376.5 397v3M377.5 397v3M378.5 397v3M379.5 397v3M380.5 391v9M381.5 391v9M382.5 397v3M383.5 397v3M384.5 397v3M385.5 391v9M386.5 397v3M387.5 397v3M388.5 397v3M389.5 397v3M392.5 397v3M393.5 397v3M394.5 397v3M395.5 397v3M396.5 397v3M397.5 397v3M398.5 397v3M401.5 397v3M402.5 391v9M403.5 397v3M404.5 397v3M405.5 397v3M406.5 397v3M407.5 397v3M408.5 397v3M409.5 397v3M410.5 397v3M411.5 397v3M412.5 397v3M413.5 397v3M414.5 397v3M415.5 397v3M416.5 391v9M417.5 397v3M418.5 397v3M419.5 397v3M420.5 391v9M421.5 397v3M422.5 397v3M423.5 397v5M424.5 397v5M427.5 367v21M428.5 361v24M429.5 367v14M430.5 367v10M431.5 367v6M432.5 367v3M434.5 367v2M435.5 364v5M440.5 367v2M441.5 364v5M442.5 361v8M443.5 367v2M444.5 367v2M445.5 367v2M446.5 367v2M447.5 367v2M448.5 367v2M449.5 367v2M450.5 367v2M452.5 367v2M459.5 361v8M460.5 364v5M461.5 361v8M462.5 367v2M463.5 367v2M464.5 367v2M465.5 367v2M488.5 361v8M489.5 367v2M490.5 367v2M491.5 367v2M492.5 367v2M493.5 367v2M495.5 367v2M496.5 367v2M497.5 361v8M498.5 364v5M499.5 367v2M500.5 367v2M501.5 364v5M503.5 367v2M504.5 367v2M505.5 367v2M508.5 367v2M509.5 367v2M510.5 367v2M511.5 367v2M512.5 367v2M513.5 367v2M514.5 364v5M515.5 367v2M516.5 367v2M519.5 367v2M520.5 367v2M524.5 367v2M528.5 364v5M532.5 367v2M540.5 367v2M541.5 361v8M542.5 367v2M543.5 367v2M544.5 367v2M545.5 367v2M546.5 367v2M547.5 367v2M567.5 367v2M568.5 367v2M569.5 367v2M570.5 367v2M571.5 367v2M572.5 367v2M573.5 367v2M574.5 367v2M575.5 367v2M576.5 367v2M577.5 367v2M578.5 367v2M579.5 367v2M580.5 367v2M581.5 367v2M582.5 367v2M583.5 364v5M585.5 364v5M589.5 387v13M590.5 393v7M591.5 393v7M592.5 393v7M593.5 393v7M594.5 393v7M595.5 393v7M596.5 393v7M599.5 393v7M600.5 393v7M601.5 393v7M602.5 396v4M603.5 396v4M604.5 390v10M605.5 396v4M606.5 396v4M607.5 390v10M608.5 396v4M609.5 396v4M610.5 390v10M611.5 396v4M612.5 396v4M613.5 396v4M614.5 393v7M615.5 396v4M616.5 390v10M617.5 396v4M618.5 396v4M619.5 390v10M620.5 396v4M621.5 396v4M622.5 396v4M623.5 390v10M624.5 396v4M625.5 396v4M626.5 396v4M627.5 390v10M628.5 393v7M629.5 396v4M630.5 393v7M631.5 396v4M634.5 393v7M635.5 396v4M636.5 396v4M637.5 396v4M638.5 396v4M639.5 393v7M640.5 396v4M643.5 396v4M644.5 396v4M645.5 396v4M646.5 393v7M647.5 396v4M648.5 396v4M649.5 396v4M650.5 396v4M651.5 396v4M652.5 396v4M653.5 396v4M654.5 390v10M655.5 396v4M656.5 390v10M657.5 396v4M658.5 390v10M659.5 396v4M660.5 396v4M661.5 396v4M662.5 396v4M663.5 390v10M664.5 396v4M665.5 396v4M666.5 396v4M667.5 396v4M668.5 396v7M669.5 396v7M678.5 385v26M679.5 385v28M680.5 386v25M682.5 374v26M683.5 373v24M684.5 374v25M685.5 377v24M686.5 377v24M687.5 378v23M688.5 379v24M689.5 378v24M690.5 379v23M691.5 381v22M692.5 381v23"/>
<path stroke="#c0ff00" d="M73.5 400v28M74.5 400v25M75.5 400v28M76.5 400v28M77.5 404v23M78.5 404v21M79.5 404v24M84.5 414v27M85.5 416v25M86.5 415v25M87.5 420v22M88.5 419v23M89.5 422v23M90.5 422v22M91.5 422v26M92.5 426v21M93.5 427v22M94.5 431v19M95.5 429v22M96.5 431v22M97.5 430v20M98.5 430v15M99.5 428v12M100.5 428v7M101.5 426v4M102.5 422v3M678.5 411v8M678.5 420v1M678.5 422v2M678.5 425v14M679.5 413v8M679.5 422v1M679.5 425v1M679.5 427v13M680.5 411v12M680.5 424v2M680.5 427v1M680.5 429v12M682.5 400v27M683.5 397v32M684.5 399v33M685.5 401v30M686.5 401v31M687.5 401v31M688.5 403v31M689.5 402v31M690.5 402v31M691.5 403v32M692.5 404v33"/>
<path stroke="#ffff00" d="M73.5 428v25M74.5 425v32M75.5 428v26M76.5 428v29M77.5 427v29M78.5 425v30M79.5 428v25M84.5 441v25M85.5 441v26M86.5 440v31M87.5 442v30M88.5 442v32M89.5 445v33M90.5 444v38M91.5 448v34M92.5 447v32M93.5 449v24M94.5 450v17M95.5 451v10M96.5 453v2M678.5 439v20M679.5 440v19M680.5 441v16M682.5 427v28M683.5 429v29M684.5 432v26M685.5 431v28M686.5 432v25M687.5 432v26M688.5 434v26M689.5 433v31M690.5 433v28M691.5 435v26M692.5 437v25"/>
<path stroke="#ffc000" d="M73.5 453v17M74.5 457v18M75.5 454v21M76.5 457v17M77.5 456v21M78.5 455v21M79.5 453v24M84.5 466v24M84.5 491v3M85.5 467v8M85.5 487v2M85.5 493v2M86.5 471v19M86.5 494v1M87.5 472v20M87.5 493v2M88.5 474v21M89.5 478v17M90.5 482v13M91.5 482v2M678.5 459v37M679.5 459v32M679.5 492v4M680.5 457v33M680.5 493v3M682.5 456v2M682.5 459v16M683.5 458v3M683.5 462v2M683.5 465v5M683.5 471v5M684.5 458v9M684.5 468v2M684.5 472v6M685.5 459v11M685.5 476v1M686.5 457v13M686.5 473v1M686.5 475v1M686.5 478v2M687.5 458v18M687.5 477v1M688.5 460v18M689.5 464v17M690.5 461v20M691.5 461v17M691.5 479v2M692.5 462v15M692.5 480v1"/>
<path stroke="#ff8000" d="M73.5 470v8M73.5 479v4M73.5 486v7M73.5 495v1M74.5 475v9M74.5 485v7M74.5 495v1M75.5 475v18M75.5 495v1M76.5 474v19M76.5 495v1M77.5 477v16M77.5 495v1M78.5 476v15M78.5 492v1M78.5 495v1M79.5 477v12M79.5 490v3M79.5 495v1M84.5 494v1M682.5 475v21M683.5 476v14M683.5 491v5M684.5 478v11M684.5 492v4M685.5 477v13M685.5 491v1M685.5 493v3M686.5 480v11M686.5 494v2M687.5 482v4M687.5 487v5M687.5 493v3M688.5 479v1M688.5 481v1M688.5 484v1M688.5 488v8M689.5 481v1M689.5 483v1M689.5 488v3M689.5 492v4M690.5 485v1M690.5 487v1M690.5 490v1M690.5 493v3M691.5 481v1M691.5 483v5M691.5 489v1M691.5 494v2M692.5 481v9M692.5 493v3"/>
<path stroke="#000000" d="M73.5 493v2M74.5 492v3M75.5 493v2M76.5 493v2M77.5 493v2M78.5 491v1M78.5 493v2M79.5 489v1M79.5 493v2M80.5 490v1M81.5 488v1M83.5 397v1M84.5 382v1M84.5 385v1M84.5 396v3M84.5 400v1M85.5 370v1M85.5 381v3M86.5 354v1M86.5 358v1M86.5 362v1M86.5 366v1M87.5 342v1M87.5 346v1M87.5 350v1M88.5 330v1M88.5 334v1M88.5 338v1M89.5 318v1M89.5 322v1M89.5 326v1M90.5 310v1M90.5 314v1M91.5 306v1M92.5 298v1M92.5 302v1M93.5 292v1M93.5 295v1M94.5 283v1M94.5 286v1M94.5 289v1M95.5 274v1M95.5 277v1M95.5 280v1M96.5 265v1M96.5 268v1M96.5 271v1M97.5 259v1M97.5 262v1M98.5 250v1M98.5 253v1M98.5 256v1M99.5 243v6M100.5 239v9M101.5 235v8M102.5 230v9M103.5 222v1M103.5 227v8M104.5 221v3M104.5 226v4M105.5 221v3M105.5 228v1M106.5 222v1M110.5 214v3M111.5 214v3M112.5 214v3M113.5 214v3M114.5 214v3M115.5 214v3M116.5 214v3M117.5 214v3M118.5 214v3M119.5 214v3M120.5 214v3M121.5 214v3M122.5 214v3M123.5 214v3M124.5 214v3M125.5 214v3M126.5 214v3M127.5 214v3M128.5 214v3M129.5 214v3M130.5 214v3M131.5 214v3M132.5 214v3M133.5 214v3M134.5 214v3M135.5 214v3M136.5 214v3M137.5 214v3M138.5 214v3M139.5 214v3M140.5 214v3M141.5 214v3M142.5 214v3M143.5 214v3M144.5 214v3M145.5 214v3M146.5 214v3M147.5 215v1M148.5 214v3M149.5 214v3M150.5 214v3M151.5 214v3M152.5 214v3M153.5 214v3M154.5 214v3M155.5 214v3M156.5 214v3M157.5 215v1M158.5 214v3M159.5 214v3M160.5 214v3M161.5 214v3M162.5 214v3M163.5 214v3M164.5 214v3M165.5 214v3M166.5 214v3M167.5 214v3M168.5 214v3M169.5 214v3M170.5 214v3M171.5 214v3M172.5 214v3M173.5 214v3M174.5 214v3M175.5 214v3M176.5 214v3M177.5 214v3M178.5 214v3M179.5 214v3M180.5 214v3M181.5 214v3M182.5 215v1M183.5 214v3M184.5 214v3M185.5 214v3M186.5 214v3M187.5 214v3M188.5 214v3M189.5 214v3M190.5 214v3M191.5 214v3M192.5 214v3M193.5 214v3M194.5 214v3M195.5 214v3M196.5 214v3M197.5 214v3M198.5 214v3M199.5 214v3M200.5 214v3M201.5 214v3M202.5 214v3M203.5 214v3M204.5 214v3M205.5 214v3M206.5 214v3M207.5 214v3M208.5 214v3M209.5 214v3M210.5 214v3M211.5 214v3M212.5 214v3M213.5 214v3M214.5 214v3M215.5 214v3M216.5 214v3M217.5 214v3M218.5 214v3M219.5 214v3M220.5 214v3M221.5 214v3M222.5 214v3M223.5 214v3M224.5 214v3M225.5 214v3M226.5 214v3M227.5 214v3M228.5 214v3M229.5 214v3M230.5 214v3M231.5 214v3M232.5 214v3M233.5 214v3M234.5 214v3M236.5 214v3M237.5 214v3M238.5 214v3M239.5 214v3M240.5 214v3M241.5 214v3M242.5 214v3M243.5 214v3M244.5 214v3M245.5 214v3M246.5 214v3M247.5 214v3M248.5 214v3M249.5 214v3M250.5 214v3M251.5 214v3M252.5 214v3M253.5 214v3M254.5 214v3M255.5 214v3M256.5 214v3M257.5 214v3M258.5 214v3M259.5 214v3M260.5 214v3M261.5 214v3M262.5 214v3M263.5 214v3M264.5 214v3M265.5 214v3M266.5 214v3M267.5 214v3M268.5 214v3M269.5 214v3M270.5 214v3M271.5 214v3M272.5 214v3M273.5 214v3M274.5 214v3M275.5 215v1M276.5 214v3M277.5 214v3M278.5 214v3M279.5 214v3M280.5 214v3M281.5 214v3M282.5 214v3M283.5 214v3M284.5 214v3M285.5 214v3M286.5 214v3M287.5 214v3M288.5 214v3M289.5 214v3M290.5 214v3M291.5 214v3M292.5 214v3M293.5 214v3M294.5 214v3M295.5 214v3M296.5 214v3M297.5 214v3M298.5 214v3M299.5 214v3M300.5 214v3M301.5 214v3M302.5 214v3M303.5 214v3M304.5 214v3M305.5 214v3M306.5 214v3M307.5 214v3M308.5 214v3M309.5 215v1M310.5 214v3M311.5 214v3M312.5 214v3M313.5 214v3M314.5 214v3M315.5 214v3M316.5 214v3M317.5 214v3M318.5 214v3M319.5 215v1M320.5 214v3M321.5 214v3M322.5 214v3M323.5 214v3M324.5 214v3M325.5 214v3M326.5 214v3M327.5 214v3M328.5 214v3M329.5 214v3M330.5 214v3M331.5 214v3M332.5 214v3M333.5 214v3M334.5 214v3M335.5 214v3M336.5 214v3M337.5 214v3M338.5 214v3M339.5 214v3M340.5 214v3M341.5 214v3M342.5 214v3M343.5 214v3M344.5 215v1M345.5 214v3M346.5 214v3M347.5 214v3M348.5 214v3M349.5 214v3M350.5 214v3M351.5 214v3M352.5 214v3M353.5 214v3M354.5 214v3M355.5 215v1M356.5 214v3M357.5 214v3M358.5 214v3M359.5 214v3M360.5 214v3M361.5 214v3M362.5 214v3M363.5 214v3M364.5 214v3M365.5 214v3M366.5 214v3M367.5 214v3M368.5 214v3M369.5 214v3M370.5 214v3M371.5 214v3M372.5 214v3M373.5 214v3M374.5 214v3M375.5 214v3M376.5 214v3M377.5 214v3M378.5 214v3M379.5 214v3M380.5 214v3M381.5 214v3M382.5 214v3M383.5 214v3M384.5 214v3M385.5 214v3M386.5 214v3M387.5 214v3M388.5 214v3M389.5 214v3M390.5 215v1M391.5 214v3M392.5 214v3M393.5 214v3M394.5 214v3M395.5 214v3M396.5 214v3M397.5 214v3M398.5 214v3M399.5 215v1M400.5 214v3M401.5 214v3M402.5 214v3M403.5 214v3M404.5 214v3M405.5 214v3M406.5 214v3M407.5 214v3M408.5 214v3M409.5 214v3M410.5 214v3M411.5 214v3M412.5 214v3M413.5 214v3M414.5 214v3M415.5 214v3M416.5 214v3M417.5 214v3M418.5 214v3M419.5 214v3M420.5 214v3M421.5 214v3M422.5 214v3M423.5 214v3M424.5 214v3M425.5 215v1M426.5 203v4M427.5 197v7M427.5 205v1M428.5 193v5M428.5 199v1M428.5 201v1M429.5 189v5M429.5 195v1M430.5 186v4M430.5 191v1M431.5 184v4M432.5 182v4M433.5 182v3M434.5 182v3M435.5 182v3M436.5 183v1M437.5 182v3M438.5 182v3M439.5 182v3M440.5 182v3M441.5 182v3M442.5 182v3M443.5 182v3M444.5 182v3M445.5 182v3M446.5 182v3M447.5 182v3M448.5 182v3M449.5 182v3M450.5 182v3M451.5 182v3M452.5 182v3M453.5 182v3M454.5 182v3M455.5 182v3M456.5 182v3M457.5 182v3M458.5 182v3M459.5 182v3M460.5 182v3M461.5 182v3M462.5 182v3M463.5 182v3M464.5 182v3M465.5 182v3M466.5 182v3M467.5 182v3M468.5 182v3M469.5 182v3M470.5 183v1M471.5 182v3M472.5 182v3M473.5 182v3M474.5 182v3M475.5 182v3M476.5 182v3M477.5 182v3M478.5 182v3M479.5 182v3M480.5 183v1M481.5 182v3M482.5 182v3M483.5 182v3M484.5 182v3M485.5 182v3M486.5 182v3M487.5 182v3M488.5 182v3M489.5 182v3M490.5 182v3M491.5 182v3M492.5 182v3M493.5 182v3M494.5 182v3M495.5 182v3M496.5 182v3M497.5 182v3M498.5 182v3M499.5 182v3M500.5 182v3M501.5 182v3M502.5 182v3M503.5 182v3M504.5 182v3M505.5 182v3M506.5 183v1M507.5 182v3M508.5 182v3M509.5 182v3M510.5 182v3M511.5 182v3M512.5 182v3M513.5 182v3M514.5 182v3M515.5 182v3M516.5 182v3M517.5 183v1M518.5 182v3M519.5 182v3M520.5 182v3M521.5 182v3M522.5 182v3M523.5 182v3M524.5 182v3M525.5 182v3M526.5 182v3M527.5 182v3M528.5 182v3M529.5 182v3M530.5 182v3M531.5 182v3M532.5 182v3M533.5 182v3M534.5 182v3M535.5 182v3M536.5 182v3M537.5 182v3M538.5 182v3M539.5 182v3M540.5 182v3M541.5 182v3M542.5 182v3M543.5 182v3M544.5 182v3M545.5 182v3M546.5 182v3M547.5 182v3M548.5 182v3M549.5 182v3M550.5 182v3M551.5 183v1M552.5 182v3M553.5 182v3M554.5 182v3M555.5 182v3M556.5 182v3M557.5 182v3M558.5 182v3M559.5 182v3M560.5 183v1M561.5 182v3M562.5 182v3M563.5 182v3M564.5 182v3M565.5 182v3M566.5 182v3M567.5 182v3M568.5 182v3M569.5 182v3M570.5 182v3M571.5 182v3M572.5 182v3M573.5 182v3M574.5 182v3M575.5 182v3M576.5 182v3M577.5 182v3M578.5 182v3M579.5 182v3M580.5 182v3M581.5 182v3M582.5 182v3M583.5 182v3M584.5 182v3M585.5 182v3M586.5 182v3M588.5 214v3M589.5 214v3M590.5 214v3M591.5 214v3M592.5 214v3M593.5 214v3M594.5 214v3M595.5 214v3M596.5 214v3M597.5 215v1M598.5 214v3M599.5 214v3M600.5 214v3M601.5 214v3M602.5 214v3M603.5 214v3M604.5 214v3M605.5 214v3M606.5 214v3M607.5 214v3M608.5 214v3M609.5 214v3M610.5 214v3M611.5 214v3M612.5 214v3M613.5 214v3M614.5 214v3M615.5 214v3M616.5 214v3M617.5 214v3M618.5 214v3M619.5 214v3M620.5 214v3M621.5 214v3M622.5 214v3M623.5 214v3M624.5 214v3M625.5 214v3M626.5 214v3M627.5 214v3M628.5 214v3M629.5 214v3M630.5 214v3M631.5 214v3M632.5 215v1M633.5 214v3M634.5 214v3M635.5 214v3M636.5 214v3M637.5 214v3M638.5 214v3M639.5 214v3M640.5 214v3M641.5 215v1M642.5 214v3M643.5 214v3M644.5 214v3M645.5 214v3M646.5 214v3M647.5 214v3M648.5 214v3M649.5 214v3M650.5 214v3M651.5 214v3M652.5 214v3M653.5 214v3M654.5 214v3M655.5 214v3M656.5 214v3M657.5 214v3M658.5 214v3M659.5 214v3M660.5 214v3M661.5 214v3M662.5 214v3M663.5 214v3M664.5 214v3M665.5 214v3M666.5 214v3M667.5 214v3M668.5 215v2M669.5 216v2M670.5 217v2M677.5 419v1M678.5 419v1M678.5 421v1M678.5 424v1M679.5 421v1M679.5 423v2M679.5 426v1M680.5 423v1M680.5 426v1M680.5 428v1M681.5 428v1M681.5 449v1M681.5 452v1M682.5 455v1M682.5 458v1M683.5 461v1M683.5 464v1M683.5 470v1M684.5 467v1M684.5 470v2M685.5 470v6M686.5 470v3M686.5 474v1M686.5 476v2M687.5 476v1M687.5 478v4M688.5 478v1M688.5 480v1M688.5 482v2M689.5 484v2M689.5 487v1M689.5 491v1M690.5 484v1M690.5 486v1M690.5 488v2M690.5 491v2M691.5 488v1M691.5 490v4M692.5 490v3"/>
<path stroke="#00c0ff" d="M84.5 255v45M85.5 232v21M85.5 255v38M86.5 234v57M87.5 248v47M88.5 232v60M89.5 248v13M89.5 263v31M90.5 165v34M90.5 249v21M90.5 272v12M90.5 286v7M91.5 248v15M91.5 264v11M91.5 276v19M92.5 250v8M92.5 260v6M92.5 268v22M93.5 247v23M93.5 271v21M93.5 293v2M94.5 124v4M94.5 250v32M94.5 284v2M94.5 287v2M94.5 290v2M95.5 116v42M95.5 249v13M95.5 264v10M95.5 275v2M95.5 278v2M95.5 281v14M96.5 110v30M96.5 233v32M96.5 267v1M96.5 269v2M96.5 272v25M97.5 102v21M97.5 249v10M97.5 260v2M97.5 263v10M97.5 274v1M97.5 278v4M97.5 284v1M97.5 286v7M98.5 96v36M98.5 252v1M98.5 254v2M98.5 257v15M98.5 273v2M98.5 276v17M99.5 90v51M99.5 250v8M99.5 259v13M99.5 273v3M99.5 277v20M100.5 84v28M100.5 253v11M100.5 266v7M100.5 274v22M101.5 80v46M101.5 243v23M101.5 269v6M101.5 277v20M102.5 78v36M102.5 251v11M102.5 263v7M102.5 271v2M102.5 274v2M102.5 277v20M103.5 74v57M103.5 241v33M103.5 276v17M104.5 66v43M104.5 235v38M104.5 274v2M104.5 277v18M111.5 58v47M111.5 250v17M111.5 270v26M112.5 58v48M112.5 250v15M112.5 268v28M113.5 58v37M113.5 250v16M113.5 269v27M114.5 58v45M114.5 250v17M114.5 270v21M115.5 58v48M115.5 240v26M115.5 268v23M116.5 58v61M116.5 244v23M116.5 270v21M117.5 58v67M117.5 244v25M117.5 271v25M118.5 58v65M118.5 245v25M118.5 274v17M119.5 58v53M119.5 230v39M119.5 272v3M119.5 276v15M120.5 58v60M120.5 235v30M120.5 268v23M121.5 58v61M121.5 230v35M121.5 268v2M121.5 271v25M122.5 58v27M122.5 226v41M122.5 269v22M123.5 58v66M123.5 227v40M123.5 269v2M123.5 272v19M124.5 58v68M124.5 222v46M124.5 270v4M124.5 275v21M125.5 58v69M125.5 224v43M125.5 271v20M126.5 58v56M126.5 222v46M126.5 272v19M127.5 58v21M127.5 231v38M127.5 272v19M128.5 58v15M128.5 228v42M128.5 273v18M129.5 58v47M129.5 237v34M129.5 274v17M130.5 58v84M130.5 241v31M130.5 276v20M131.5 58v42M131.5 245v28M131.5 276v20M132.5 248v25M132.5 276v20M133.5 58v54M133.5 250v22M133.5 276v20M134.5 58v57M134.5 250v21M134.5 274v27M135.5 58v60M135.5 250v21M135.5 274v3M135.5 278v18M136.5 58v46M136.5 245v25M136.5 273v23M137.5 58v73M137.5 235v36M137.5 274v22M138.5 58v59M138.5 235v36M138.5 274v1M138.5 276v20M139.5 58v59M139.5 245v25M139.5 273v23M140.5 58v35M140.5 245v23M140.5 271v25M141.5 58v47M141.5 245v22M141.5 269v27M142.5 58v71M142.5 245v23M142.5 271v25M143.5 58v73M143.5 245v22M143.5 271v1M143.5 278v23M144.5 58v13M144.5 250v17M144.5 271v25M145.5 58v22M145.5 250v16M145.5 269v22M146.5 58v67M146.5 250v16M146.5 270v21M149.5 58v39M149.5 245v20M149.5 266v1M149.5 270v21M150.5 58v47M150.5 255v13M150.5 272v24M151.5 58v7M151.5 250v19M151.5 272v24M152.5 58v53M152.5 255v9M152.5 277v24M153.5 58v45M153.5 255v13M153.5 272v24M154.5 58v51M154.5 245v23M154.5 271v25M155.5 58v62M155.5 255v13M155.5 271v30M156.5 58v66M156.5 250v19M156.5 271v25M159.5 58v73M159.5 245v22M159.5 271v25M160.5 58v51M160.5 245v20M160.5 267v29M161.5 58v63M161.5 250v14M161.5 267v29M162.5 58v63M162.5 245v20M162.5 268v23M163.5 58v58M163.5 250v16M163.5 269v22M164.5 58v62M164.5 245v22M164.5 270v21M165.5 58v61M165.5 250v20M165.5 273v18M166.5 58v65M166.5 250v22M166.5 275v16M167.5 58v48M167.5 240v30M167.5 271v2M167.5 276v15M168.5 58v60M168.5 240v32M168.5 275v16M169.5 58v63M169.5 250v22M169.5 275v21M170.5 58v93M170.5 245v26M170.5 274v22M171.5 58v45M171.5 245v27M171.5 274v17M172.5 58v26M172.5 242v29M172.5 272v1M172.5 276v15M173.5 246v27M173.5 276v3M173.5 280v11M174.5 58v54M174.5 242v24M174.5 275v16M175.5 58v61M175.5 245v24M175.5 273v18M176.5 58v74M176.5 250v21M176.5 274v22M177.5 58v39M177.5 242v29M177.5 274v27M178.5 58v47M178.5 250v22M178.5 276v25M179.5 58v44M179.5 243v30M179.5 277v19M180.5 58v19M180.5 247v24M180.5 272v2M180.5 277v19M181.5 58v30M181.5 250v24M181.5 277v19M184.5 58v43M184.5 255v20M184.5 278v18M185.5 255v18M185.5 275v21M186.5 58v57M186.5 255v16M186.5 273v28M187.5 58v17M187.5 255v14M187.5 273v23M188.5 58v47M188.5 255v15M188.5 274v27M189.5 58v51M189.5 255v14M189.5 274v17M190.5 58v51M190.5 240v28M190.5 271v20M191.5 58v49M191.5 250v18M191.5 270v26M192.5 58v87M192.5 245v23M192.5 271v20M193.5 58v44M193.5 250v18M193.5 271v15M194.5 58v55M194.5 250v18M194.5 271v15M195.5 58v23M195.5 250v17M195.5 270v16M196.5 58v32M196.5 250v17M196.5 270v2M196.5 273v13M197.5 58v43M197.5 250v14M197.5 265v2M197.5 270v16M198.5 58v11M198.5 250v16M198.5 269v17M199.5 250v16M199.5 269v17M200.5 58v23M200.5 245v18M200.5 270v21M201.5 58v96M201.5 245v20M201.5 268v23M202.5 58v74M202.5 245v17M202.5 263v2M202.5 267v24M203.5 58v71M203.5 245v19M203.5 265v1M203.5 269v22M204.5 58v102M204.5 245v20M204.5 268v4M204.5 287v9M205.5 58v27M205.5 245v18M205.5 264v2M205.5 274v17M206.5 58v76M206.5 245v24M206.5 272v24M207.5 58v68M207.5 245v24M207.5 272v19M208.5 58v73M208.5 245v19M208.5 265v3M208.5 270v2M208.5 289v7M209.5 58v37M209.5 250v17M209.5 270v21M210.5 58v78M210.5 250v17M210.5 270v21M211.5 58v77M211.5 250v17M211.5 270v21M212.5 58v112M212.5 250v19M212.5 272v19M213.5 58v48M213.5 255v17M213.5 276v20M214.5 58v84M214.5 250v22M214.5 276v15M215.5 58v73M215.5 245v28M215.5 276v15M216.5 58v75M216.5 250v22M216.5 275v16M217.5 58v38M217.5 245v27M217.5 275v21M218.5 58v76M218.5 250v22M218.5 275v16M219.5 58v50M219.5 245v27M219.5 275v16M220.5 58v62M220.5 250v22M220.5 276v15M221.5 58v75M221.5 250v21M221.5 274v22M222.5 58v85M222.5 250v20M222.5 274v17M223.5 58v49M223.5 250v20M223.5 273v18M224.5 58v72M224.5 250v21M224.5 274v22M225.5 58v19M225.5 250v22M225.5 275v1M225.5 277v19M226.5 58v64M226.5 250v25M226.5 278v13M227.5 58v37M227.5 250v27M227.5 279v17M228.5 58v73M228.5 250v26M228.5 279v17M229.5 58v62M229.5 250v25M229.5 279v17M230.5 58v10M230.5 250v24M230.5 278v18M231.5 58v52M231.5 250v23M231.5 276v20M232.5 58v70M232.5 250v22M232.5 276v25M233.5 58v66M233.5 240v32M233.5 277v19M237.5 58v74M237.5 250v18M237.5 272v14M238.5 58v67M238.5 250v17M238.5 270v21M239.5 58v52M239.5 250v16M239.5 269v3M239.5 273v13M240.5 58v62M240.5 240v26M240.5 270v21M241.5 58v58M241.5 240v25M241.5 268v28M242.5 58v20M242.5 245v18M242.5 267v24M243.5 58v59M243.5 245v17M243.5 265v31M244.5 58v72M244.5 240v22M244.5 265v31M245.5 58v27M245.5 245v18M245.5 266v30M246.5 58v69M246.5 245v18M246.5 268v28M247.5 58v38M247.5 245v17M247.5 264v32M248.5 58v63M248.5 245v16M248.5 264v37M249.5 58v57M249.5 240v23M249.5 266v25M250.5 58v57M250.5 245v22M250.5 277v14M251.5 58v52M251.5 245v23M251.5 271v20M252.5 58v39M252.5 240v28M252.5 285v11M253.5 58v31M253.5 230v39M253.5 272v19M254.5 58v16M254.5 235v34M254.5 272v24M255.5 58v53M255.5 245v24M255.5 272v29M256.5 58v50M256.5 245v24M256.5 274v22M257.5 58v47M257.5 250v21M257.5 274v2M257.5 277v19M258.5 58v9M258.5 250v20M258.5 274v4M258.5 279v17M259.5 58v57M259.5 255v13M259.5 269v1M259.5 274v27M260.5 58v62M260.5 255v18M260.5 276v20M261.5 58v105M261.5 255v20M261.5 278v18M262.5 250v23M262.5 276v20M263.5 58v52M263.5 255v13M263.5 270v1M263.5 274v22M264.5 58v51M264.5 255v12M264.5 268v2M264.5 274v27M265.5 58v72M265.5 250v18M265.5 287v4M266.5 58v47M266.5 250v15M266.5 266v2M266.5 271v20M267.5 58v63M267.5 250v19M267.5 273v18M268.5 58v67M268.5 250v17M268.5 270v21M269.5 58v46M269.5 250v15M269.5 271v1M269.5 273v18M270.5 58v68M270.5 250v16M270.5 270v21M271.5 58v81M271.5 250v19M271.5 271v15M272.5 58v68M272.5 250v18M272.5 276v10M273.5 58v53M273.5 250v17M273.5 270v16M274.5 58v54M274.5 245v21M274.5 269v1M274.5 271v15M277.5 58v60M277.5 255v14M277.5 272v14M278.5 58v80M278.5 255v14M278.5 271v15M279.5 58v37M279.5 254v15M279.5 272v19M280.5 58v82M280.5 247v23M280.5 273v13M281.5 58v77M281.5 229v42M281.5 273v1M281.5 275v11M282.5 58v82M282.5 231v40M282.5 274v3M282.5 278v8M283.5 58v92M283.5 218v54M283.5 276v2M283.5 279v12M284.5 58v94M284.5 223v46M284.5 270v2M284.5 275v4M284.5 280v11M285.5 58v91M285.5 229v38M285.5 268v2M285.5 273v18M286.5 58v82M286.5 227v42M286.5 272v24M287.5 58v74M287.5 240v29M287.5 273v18M288.5 58v82M288.5 243v29M288.5 276v20M289.5 58v90M289.5 240v32M289.5 276v1M289.5 278v13M290.5 58v87M290.5 250v21M290.5 274v17M291.5 58v88M291.5 250v21M291.5 275v16M292.5 58v92M292.5 250v21M292.5 274v17M293.5 58v82M293.5 245v24M293.5 272v19M294.5 58v63M294.5 240v27M294.5 270v21M295.5 58v89M295.5 240v27M295.5 271v20M296.5 58v84M296.5 240v26M296.5 269v22M297.5 58v85M297.5 250v17M297.5 270v2M297.5 273v18M298.5 58v66M298.5 250v18M298.5 272v24M299.5 58v61M299.5 250v19M299.5 272v29M300.5 58v88M300.5 245v25M300.5 274v22M301.5 58v56M301.5 250v19M301.5 274v22M302.5 58v90M302.5 250v19M302.5 276v20M303.5 58v84M303.5 245v24M303.5 272v24M304.5 58v79M304.5 245v24M304.5 272v24M305.5 58v77M305.5 245v21M305.5 267v2M305.5 272v24M306.5 58v51M306.5 240v30M306.5 273v28M307.5 58v76M307.5 235v33M307.5 271v25M308.5 58v75M308.5 245v23M308.5 272v24M311.5 58v70M311.5 235v34M311.5 272v3M311.5 276v20M312.5 58v68M312.5 245v24M312.5 272v24M313.5 58v60M313.5 245v23M313.5 271v25M314.5 58v66M314.5 245v23M314.5 272v29M315.5 58v67M315.5 245v23M315.5 271v25M316.5 58v32M316.5 245v22M316.5 268v1M316.5 272v29M317.5 58v63M317.5 235v34M317.5 272v24M318.5 58v25M318.5 245v24M318.5 271v25M321.5 58v29M321.5 250v16M321.5 270v26M322.5 58v3M322.5 250v16M322.5 271v20M323.5 58v12M323.5 250v17M323.5 270v21M324.5 58v111M324.5 250v16M324.5 269v27M325.5 58v69M325.5 250v15M325.5 267v19M326.5 58v32M326.5 250v15M326.5 269v17M327.5 58v18M327.5 245v21M327.5 285v1M328.5 58v53M328.5 250v18M328.5 271v15M329.5 58v25M329.5 250v18M329.5 272v19M330.5 58v45M330.5 250v16M330.5 269v22M331.5 58v97M331.5 255v13M331.5 272v14M332.5 58v105M332.5 255v15M332.5 272v19M333.5 58v42M333.5 255v12M333.5 268v2M333.5 274v17M334.5 58v58M334.5 255v13M334.5 271v20M335.5 58v47M335.5 255v12M335.5 270v31M336.5 58v87M336.5 255v14M336.5 271v25M337.5 58v72M337.5 235v34M337.5 273v23M338.5 58v48M338.5 243v26M338.5 272v24M339.5 58v73M339.5 246v23M339.5 272v24M340.5 58v20M340.5 235v35M340.5 273v23M341.5 58v57M341.5 238v30M341.5 271v25M342.5 58v64M342.5 241v27M342.5 271v30M343.5 58v60M343.5 240v28M343.5 271v25M346.5 58v39M346.5 245v21M346.5 269v22M347.5 58v80M347.5 245v22M347.5 270v21M348.5 58v90M348.5 245v25M348.5 273v18M349.5 58v42M349.5 240v30M349.5 271v1M349.5 275v21M350.5 58v55M350.5 245v26M350.5 274v17M351.5 58v13M351.5 240v30M351.5 273v13M352.5 58v66M352.5 235v34M352.5 287v4M353.5 58v59M353.5 245v23M353.5 272v14M354.5 58v60M354.5 245v25M354.5 273v13M357.5 58v74M357.5 245v29M357.5 277v9M358.5 58v70M358.5 245v28M358.5 276v10M359.5 58v64M359.5 240v31M359.5 275v16M360.5 58v44M360.5 241v29M360.5 273v18M361.5 58v26M361.5 225v45M361.5 272v19M362.5 58v50M362.5 237v27M362.5 265v4M362.5 272v24M363.5 58v67M363.5 232v35M363.5 268v1M363.5 272v19M364.5 58v78M364.5 236v34M364.5 273v18M365.5 58v37M365.5 229v39M365.5 269v1M365.5 273v18M366.5 58v66M366.5 238v30M366.5 271v20M367.5 58v47M367.5 238v27M367.5 266v2M367.5 271v20M368.5 58v62M368.5 235v32M368.5 270v21M369.5 58v67M369.5 245v22M369.5 270v2M369.5 281v15M370.5 58v66M370.5 245v23M370.5 271v20M371.5 58v64M371.5 240v30M371.5 273v18M372.5 58v55M372.5 240v28M372.5 278v13M373.5 58v39M373.5 240v21M373.5 262v3M373.5 268v23M374.5 58v6M374.5 240v24M374.5 267v24M375.5 58v63M375.5 245v20M375.5 268v23M376.5 58v57M376.5 245v22M376.5 270v21M377.5 58v38M377.5 245v23M377.5 272v24M378.5 58v43M378.5 245v24M378.5 273v23M379.5 58v34M379.5 245v24M379.5 272v24M380.5 58v41M380.5 245v24M380.5 272v24M381.5 58v59M381.5 240v27M381.5 268v2M381.5 273v23M382.5 58v49M382.5 245v24M382.5 280v16M383.5 58v36M383.5 245v22M383.5 270v3M383.5 274v22M384.5 58v32M384.5 245v24M384.5 273v23M385.5 58v27M385.5 250v21M385.5 275v21M386.5 58v28M386.5 250v21M386.5 274v17M387.5 250v18M387.5 278v13M388.5 58v85M388.5 250v16M388.5 267v2M388.5 272v3M388.5 276v15M389.5 58v77M389.5 250v17M389.5 268v1M389.5 272v14M392.5 58v56M392.5 250v21M392.5 274v17M393.5 58v54M393.5 250v21M393.5 274v17M394.5 58v56M394.5 250v21M394.5 274v22M395.5 58v41M395.5 250v21M395.5 274v22M396.5 58v67M396.5 240v31M396.5 274v22M397.5 58v91M397.5 250v22M397.5 275v26M398.5 58v49M398.5 250v21M398.5 274v27M401.5 58v69M401.5 250v22M401.5 277v19M402.5 58v36M402.5 250v22M402.5 276v20M403.5 58v64M403.5 240v32M403.5 275v5M403.5 281v15M404.5 245v27M404.5 275v16M405.5 58v17M405.5 240v32M405.5 275v21M406.5 58v33M406.5 245v26M406.5 285v6M407.5 58v51M407.5 245v26M407.5 274v22M408.5 58v55M408.5 250v19M408.5 272v24M409.5 58v31M409.5 240v26M409.5 269v27M410.5 58v6M410.5 250v17M410.5 270v26M411.5 58v64M411.5 250v19M411.5 272v24M412.5 58v71M412.5 245v23M412.5 271v25M413.5 58v73M413.5 253v14M413.5 270v26M414.5 58v67M414.5 250v12M414.5 263v4M414.5 270v26M415.5 58v36M415.5 246v18M415.5 280v16M416.5 58v33M416.5 236v31M416.5 270v26M417.5 58v61M417.5 245v21M417.5 269v27M418.5 58v58M418.5 232v33M418.5 268v28M419.5 58v8M419.5 238v28M419.5 269v22M420.5 58v28M420.5 245v21M420.5 269v27M421.5 58v66M421.5 247v19M421.5 269v27M422.5 58v65M422.5 250v17M422.5 270v21M423.5 58v53M423.5 240v29M423.5 272v19M424.5 58v59M424.5 250v20M424.5 273v13M427.5 40v82M427.5 237v22M427.5 262v12M428.5 40v76M428.5 247v11M428.5 261v2M428.5 264v10M429.5 40v56M429.5 247v12M429.5 263v16M430.5 247v12M430.5 262v3M430.5 266v13M431.5 40v80M431.5 247v11M431.5 262v17M432.5 40v34M432.5 247v10M432.5 259v4M432.5 264v15M433.5 40v75M433.5 247v9M433.5 259v1M433.5 261v18M434.5 40v81M434.5 247v4M434.5 252v3M434.5 258v21M435.5 40v88M435.5 130v46M435.5 242v12M435.5 256v23M438.5 41v36M438.5 230v25M438.5 258v16M439.5 42v87M439.5 130v3M439.5 134v26M439.5 229v27M439.5 259v15M440.5 42v69M440.5 233v25M440.5 261v3M440.5 265v14M441.5 42v79M441.5 233v26M441.5 261v13M442.5 40v70M442.5 235v25M442.5 264v10M443.5 40v85M443.5 126v55M443.5 231v28M443.5 260v1M443.5 264v10M444.5 42v82M444.5 225v33M444.5 259v2M444.5 264v10M445.5 42v52M445.5 223v36M445.5 260v1M445.5 264v10M446.5 42v81M446.5 124v2M446.5 128v2M446.5 225v37M446.5 265v9M447.5 42v59M447.5 234v25M447.5 260v2M447.5 265v9M448.5 40v40M448.5 233v28M448.5 263v2M448.5 266v8M449.5 40v62M449.5 229v32M449.5 264v3M449.5 268v6M450.5 40v74M450.5 235v24M450.5 262v12M451.5 40v82M451.5 123v12M451.5 236v21M451.5 260v19M452.5 40v79M452.5 122v25M452.5 239v15M452.5 255v1M452.5 259v25M453.5 42v76M453.5 121v36M453.5 235v20M453.5 257v15M453.5 279v5M454.5 41v82M454.5 125v12M454.5 240v15M454.5 258v21M455.5 40v86M455.5 128v12M455.5 237v19M455.5 259v20M456.5 40v82M456.5 123v1M456.5 125v33M456.5 232v25M456.5 260v19M457.5 40v64M457.5 237v21M457.5 261v4M458.5 40v85M458.5 126v56M458.5 185v5M458.5 227v33M458.5 263v16M459.5 42v140M459.5 185v10M460.5 42v139M461.5 42v69M462.5 40v96M463.5 41v51M464.5 42v70M465.5 42v79M465.5 122v49M466.5 42v78M466.5 121v2M467.5 41v72M468.5 40v114M469.5 41v87M472.5 40v83M472.5 232v30M472.5 265v14M473.5 40v80M473.5 242v22M473.5 267v12M474.5 40v75M474.5 242v22M474.5 267v12M475.5 40v77M475.5 242v19M475.5 264v15M476.5 40v87M476.5 129v53M476.5 185v14M476.5 232v27M476.5 263v21M477.5 40v83M477.5 125v1M477.5 127v55M477.5 237v23M477.5 262v2M477.5 265v19M478.5 40v52M478.5 242v16M478.5 259v1M478.5 262v22M479.5 40v22M479.5 242v17M479.5 262v17M481.5 40v84M481.5 126v16M481.5 237v21M481.5 261v18M482.5 41v85M482.5 237v21M482.5 261v18M483.5 40v46M483.5 237v21M483.5 260v24M484.5 40v47M485.5 40v82M485.5 124v8M486.5 40v94M487.5 40v65M488.5 41v81M488.5 123v3M489.5 40v61M489.5 242v10M489.5 254v25M490.5 40v83M490.5 232v17M490.5 251v28M491.5 40v68M491.5 242v7M491.5 252v27M492.5 40v76M492.5 235v16M492.5 254v30M493.5 40v80M493.5 123v8M493.5 241v13M493.5 257v22M494.5 40v80M494.5 122v1M494.5 124v20M494.5 242v13M494.5 258v21M495.5 40v82M495.5 123v13M495.5 233v21M495.5 258v21M496.5 40v77M496.5 118v2M496.5 121v55M496.5 237v15M496.5 253v2M496.5 259v20M497.5 40v84M497.5 125v3M497.5 129v4M497.5 232v24M497.5 259v25M498.5 42v81M498.5 124v3M498.5 128v1M498.5 232v24M498.5 259v25M499.5 42v73M499.5 229v26M499.5 258v26M500.5 42v11M500.5 237v20M500.5 260v3M500.5 264v20M501.5 42v81M501.5 245v11M501.5 260v24M502.5 42v74M502.5 235v18M502.5 256v33M503.5 41v93M503.5 135v3M503.5 139v39M503.5 242v11M503.5 256v28M504.5 40v94M504.5 136v2M504.5 242v11M504.5 257v27M505.5 40v41M505.5 237v16M505.5 257v27M508.5 40v128M508.5 237v18M508.5 258v21M509.5 40v82M509.5 237v17M509.5 257v22M510.5 40v48M510.5 237v17M510.5 257v22M511.5 40v56M511.5 237v19M511.5 259v20M512.5 40v81M512.5 123v21M512.5 237v19M512.5 259v20M513.5 40v82M513.5 124v6M513.5 237v18M513.5 258v2M513.5 261v18M514.5 42v80M514.5 124v8M514.5 237v18M514.5 257v4M514.5 263v16M515.5 42v100M515.5 242v15M515.5 259v20M516.5 41v141M516.5 185v5M516.5 242v17M516.5 263v16M519.5 40v142M519.5 185v9M519.5 242v22M519.5 268v11M520.5 40v86M520.5 237v22M520.5 260v3M520.5 266v18M521.5 40v97M521.5 234v29M521.5 266v13M522.5 42v83M522.5 126v7M522.5 236v28M522.5 267v1M522.5 269v10M523.5 40v68M523.5 241v24M523.5 268v1M523.5 270v14M524.5 40v85M524.5 127v10M524.5 226v38M524.5 267v17M525.5 40v48M525.5 238v24M525.5 265v14M526.5 40v51M526.5 237v22M526.5 260v2M526.5 265v14M527.5 40v88M527.5 237v26M527.5 266v13M528.5 41v79M528.5 122v1M528.5 124v3M528.5 128v5M528.5 229v34M528.5 265v14M529.5 42v77M529.5 120v4M529.5 126v56M529.5 185v22M529.5 241v24M529.5 267v12M530.5 42v80M530.5 236v29M531.5 42v80M531.5 234v29M531.5 269v10M532.5 40v82M532.5 124v3M532.5 237v25M532.5 265v1M532.5 267v12M533.5 40v69M533.5 236v27M533.5 266v8M534.5 40v55M534.5 232v31M534.5 266v8M535.5 40v79M535.5 242v21M535.5 266v13M536.5 41v77M536.5 242v19M536.5 264v15M537.5 42v54M537.5 242v15M537.5 258v1M537.5 263v16M538.5 42v76M538.5 119v8M538.5 237v22M538.5 262v17M539.5 42v75M539.5 118v2M539.5 237v21M539.5 261v7M540.5 42v76M540.5 120v29M540.5 242v15M540.5 260v19M541.5 42v81M542.5 41v78M542.5 120v2M542.5 123v7M543.5 42v79M543.5 123v47M544.5 42v63M545.5 42v66M546.5 40v142M547.5 40v106M548.5 42v52M549.5 40v81M549.5 247v15M549.5 266v13M550.5 42v79M550.5 123v2M550.5 126v30M550.5 242v22M550.5 267v3M553.5 40v76M553.5 247v16M553.5 266v1M553.5 268v11M554.5 40v52M554.5 247v16M554.5 267v12M555.5 40v84M555.5 247v17M555.5 268v11M556.5 40v84M556.5 247v16M556.5 266v2M556.5 269v20M557.5 40v80M557.5 247v16M557.5 266v4M557.5 271v13M558.5 40v15M558.5 242v21M558.5 266v18M559.5 40v53M559.5 242v20M559.5 266v1M559.5 268v16M562.5 42v75M562.5 242v17M562.5 261v3M562.5 265v24M563.5 42v82M563.5 126v49M563.5 247v12M563.5 262v3M563.5 266v23M564.5 42v55M564.5 247v13M564.5 262v2M564.5 265v7M565.5 42v81M565.5 242v17M565.5 262v27M566.5 40v80M566.5 252v3M566.5 256v1M566.5 260v24M567.5 40v49M567.5 247v10M567.5 260v19M568.5 40v76M568.5 242v17M568.5 262v2M568.5 265v14M569.5 40v79M569.5 121v2M569.5 247v11M569.5 260v12M570.5 40v76M570.5 240v16M570.5 259v3M570.5 263v21M571.5 40v75M571.5 224v33M571.5 260v19M572.5 40v80M572.5 121v1M572.5 222v36M572.5 261v18M573.5 40v79M573.5 120v5M573.5 127v21M573.5 226v31M573.5 260v19M574.5 40v77M574.5 227v30M574.5 261v18M575.5 40v82M575.5 225v31M575.5 260v19M576.5 41v78M576.5 228v26M576.5 257v27M577.5 42v28M577.5 221v33M577.5 258v21M578.5 40v27M578.5 234v23M578.5 260v24M579.5 40v83M579.5 235v22M579.5 261v18M580.5 40v85M580.5 127v2M580.5 240v17M580.5 260v14M581.5 40v87M581.5 237v20M581.5 260v14M582.5 40v62M582.5 237v20M582.5 261v2M582.5 264v10M583.5 40v57M583.5 237v21M583.5 261v3M583.5 265v9M584.5 40v50M584.5 237v23M584.5 263v11M585.5 40v74M585.5 232v29M585.5 264v3M585.5 268v6M589.5 58v56M589.5 246v23M589.5 270v1M589.5 275v10M590.5 58v74M590.5 236v33M590.5 272v2M590.5 275v10M591.5 58v49M591.5 251v14M591.5 266v3M591.5 272v8M592.5 58v75M592.5 251v20M592.5 274v6M593.5 58v44M593.5 251v20M594.5 58v53M594.5 251v19M594.5 275v10M595.5 58v72M595.5 246v26M595.5 275v10M596.5 58v25M596.5 251v20M596.5 272v2M596.5 276v9M599.5 58v58M599.5 251v20M599.5 275v10M600.5 58v42M600.5 251v15M600.5 267v3M600.5 273v12M601.5 58v71M601.5 251v18M601.5 281v9M602.5 58v72M602.5 251v15M602.5 281v9M603.5 58v69M603.5 251v15M603.5 269v26M604.5 58v62M604.5 241v24M604.5 266v1M604.5 270v20M605.5 58v51M605.5 251v15M605.5 269v21M606.5 58v48M606.5 246v20M606.5 269v21M607.5 58v42M607.5 249v17M607.5 269v26M608.5 58v57M608.5 244v23M608.5 270v20M609.5 58v60M609.5 245v25M609.5 273v17M610.5 58v40M610.5 240v32M610.5 276v14M611.5 243v30M611.5 275v15M612.5 58v20M612.5 245v28M612.5 276v2M612.5 279v11M613.5 58v14M613.5 241v31M613.5 276v14M614.5 58v21M614.5 238v35M614.5 275v15M615.5 58v25M615.5 244v27M615.5 272v1M615.5 277v13M616.5 58v62M616.5 240v32M616.5 275v15M617.5 58v34M617.5 244v28M617.5 287v8M618.5 58v51M618.5 246v27M618.5 277v8M619.5 58v73M619.5 246v27M619.5 276v9M620.5 58v7M620.5 241v30M620.5 283v2M621.5 58v31M621.5 246v26M621.5 274v11M622.5 58v27M622.5 246v25M622.5 274v11M623.5 58v11M623.5 246v23M623.5 272v13M624.5 251v19M624.5 273v12M625.5 58v33M625.5 251v21M625.5 275v10M626.5 251v21M626.5 275v15M627.5 251v19M627.5 274v11M628.5 58v69M628.5 241v29M628.5 273v12M629.5 58v49M629.5 251v21M629.5 276v9M630.5 58v61M630.5 251v21M630.5 276v9M631.5 58v51M631.5 246v26M631.5 275v10M634.5 58v46M634.5 251v17M634.5 271v14M635.5 58v49M635.5 251v16M635.5 270v20M636.5 58v50M636.5 251v16M636.5 271v14M637.5 58v44M637.5 241v27M637.5 272v4M637.5 277v8M638.5 58v45M638.5 251v17M638.5 271v19M639.5 58v50M639.5 251v18M639.5 273v17M640.5 58v76M640.5 241v29M640.5 272v18M643.5 58v20M643.5 251v17M643.5 272v18M644.5 58v44M644.5 241v28M644.5 271v19M645.5 58v16M645.5 251v14M645.5 266v2M645.5 272v18M646.5 58v7M646.5 246v21M646.5 271v24M647.5 58v31M647.5 241v24M647.5 269v21M648.5 58v48M648.5 251v12M648.5 267v28M649.5 58v52M649.5 251v13M649.5 268v27M650.5 58v30M650.5 246v18M650.5 267v28M651.5 58v30M651.5 245v20M651.5 268v27M652.5 58v61M652.5 246v20M652.5 269v1M652.5 271v24M653.5 58v56M653.5 241v26M653.5 270v25M654.5 58v20M654.5 242v14M654.5 270v25M655.5 58v56M655.5 235v32M655.5 271v24M656.5 58v58M656.5 232v36M656.5 272v23M657.5 58v94M657.5 250v18M657.5 272v23M658.5 58v13M658.5 246v10M658.5 271v24M659.5 58v49M659.5 255v8M659.5 264v2M659.5 269v21M660.5 58v54M660.5 256v12M660.5 272v18M661.5 58v55M661.5 256v5M661.5 275v15M662.5 58v52M662.5 246v12M662.5 268v4M662.5 276v14M663.5 58v48M663.5 256v14M663.5 272v1M663.5 285v5M664.5 58v16M664.5 246v10M664.5 276v14M665.5 58v51M665.5 256v12M665.5 272v18M666.5 58v8M666.5 256v12M666.5 272v18M667.5 58v47M667.5 256v14M667.5 273v17M668.5 58v4M668.5 256v14M668.5 274v16M669.5 58v49M669.5 256v6M669.5 271v19"/>
<path stroke="#00ffc0" d="M84.5 300v16M85.5 302v16M86.5 303v13M87.5 302v17M88.5 304v14M89.5 305v13M90.5 305v5M90.5 311v3M90.5 315v4M91.5 302v4M91.5 307v11M92.5 305v15M93.5 307v13M94.5 306v18M95.5 305v18M96.5 307v17M97.5 307v19M98.5 309v15M99.5 310v17M100.5 310v14M101.5 308v17M102.5 311v17M103.5 310v16M104.5 314v14M111.5 302v20M112.5 310v12M113.5 306v16M114.5 310v12M115.5 310v12M116.5 310v4M117.5 306v8M118.5 306v16M119.5 310v12M120.5 302v20M121.5 302v20M122.5 310v12M123.5 310v12M124.5 310v12M125.5 310v12M126.5 310v12M127.5 306v12M128.5 306v20M129.5 310v16M130.5 306v20M131.5 206v8M131.5 310v8M132.5 310v16M133.5 302v24M134.5 207v7M134.5 310v8M135.5 208v6M135.5 217v1M135.5 310v16M136.5 310v16M137.5 211v3M137.5 217v4M137.5 310v16M138.5 306v20M139.5 302v24M140.5 306v12M141.5 302v24M142.5 310v16M143.5 306v20M144.5 302v24M145.5 306v20M146.5 306v20M149.5 306v16M150.5 306v20M151.5 306v20M152.5 301v21M153.5 306v20M154.5 302v24M155.5 310v8M156.5 302v20M159.5 218v6M159.5 310v16M160.5 213v1M160.5 217v4M160.5 298v20M161.5 217v5M161.5 306v20M162.5 212v2M162.5 217v3M162.5 306v20M163.5 217v3M163.5 306v20M164.5 306v20M165.5 306v20M166.5 302v24M167.5 302v24M168.5 298v28M169.5 306v20M170.5 306v20M171.5 306v20M172.5 310v16M173.5 310v16M174.5 310v8M175.5 306v20M176.5 310v8M177.5 302v20M178.5 310v8M179.5 196v14M179.5 306v20M180.5 189v16M180.5 310v16M181.5 189v24M181.5 310v16M184.5 192v12M184.5 310v16M185.5 310v16M186.5 310v12M187.5 310v4M188.5 310v4M189.5 302v24M190.5 310v8M191.5 310v16M192.5 310v16M193.5 310v16M194.5 310v8M195.5 302v24M196.5 310v16M197.5 306v16M198.5 310v20M199.5 302v20M200.5 310v20M201.5 310v20M202.5 310v12M203.5 310v20M204.5 310v12M205.5 302v28M206.5 310v16M207.5 310v20M208.5 310v20M209.5 310v20M210.5 310v20M211.5 310v20M212.5 310v20M213.5 302v28M214.5 310v12M215.5 310v12M216.5 306v20M217.5 306v20M218.5 302v24M219.5 310v20M220.5 306v24M221.5 310v20M222.5 310v12M223.5 310v12M224.5 310v16M225.5 306v24M226.5 310v8M227.5 310v8M228.5 310v16M229.5 310v8M230.5 310v16M231.5 310v12M232.5 310v16M233.5 302v24M237.5 302v20M238.5 310v12M239.5 310v12M240.5 310v12M241.5 310v12M242.5 306v20M243.5 310v12M244.5 306v16M245.5 306v12M246.5 310v16M247.5 302v24M248.5 310v8M249.5 310v12M250.5 306v20M251.5 298v28M252.5 302v20M253.5 306v24M254.5 306v16M255.5 310v20M256.5 310v20M257.5 310v20M258.5 310v20M259.5 310v20M260.5 310v20M261.5 302v28M262.5 310v12M263.5 302v28M264.5 306v16M265.5 306v24M266.5 310v20M267.5 306v16M268.5 220v6M268.5 310v16M269.5 219v14M269.5 310v16M270.5 210v4M270.5 217v9M270.5 310v12M271.5 217v6M271.5 310v16M272.5 310v16M273.5 310v16M274.5 306v20M277.5 310v16M278.5 302v24M279.5 200v14M279.5 310v16M280.5 310v8M281.5 199v15M281.5 310v16M282.5 196v16M282.5 310v16M283.5 194v20M283.5 217v1M283.5 310v12M284.5 196v18M284.5 217v3M284.5 302v28M285.5 190v22M285.5 310v20M286.5 189v25M286.5 302v28M287.5 197v17M287.5 217v4M287.5 310v20M288.5 196v18M288.5 306v24M289.5 306v16M290.5 302v28M291.5 306v16M292.5 302v24M293.5 306v16M294.5 306v16M295.5 306v20M296.5 306v20M297.5 298v28M298.5 302v24M299.5 310v16M300.5 310v16M301.5 310v16M302.5 310v16M303.5 310v16M304.5 306v20M305.5 310v8M306.5 310v16M307.5 310v16M308.5 310v16M311.5 310v12M312.5 310v16M313.5 310v16M314.5 310v16M315.5 310v16M316.5 310v16M317.5 310v8M318.5 302v24M321.5 306v20M322.5 306v20M323.5 302v16M324.5 306v16M325.5 306v12M326.5 310v16M327.5 210v4M327.5 217v3M327.5 302v20M328.5 306v20M329.5 310v8M330.5 206v8M330.5 217v1M330.5 310v16M331.5 203v11M331.5 217v2M331.5 306v24M332.5 306v16M333.5 207v7M333.5 310v8M334.5 310v16M335.5 310v16M336.5 306v20M337.5 302v24M338.5 310v12M339.5 302v24M340.5 310v8M341.5 310v16M342.5 310v16M343.5 310v16M346.5 310v16M347.5 310v16M348.5 310v8M349.5 302v24M350.5 310v8M351.5 314v12M352.5 314v12M353.5 314v12M354.5 314v12M357.5 314v16M358.5 310v20M359.5 310v16M360.5 310v16M361.5 310v16M362.5 188v12M362.5 302v24M363.5 184v22M363.5 310v8M364.5 178v26M364.5 310v16M365.5 185v12M365.5 310v16M366.5 184v24M366.5 310v16M367.5 187v22M367.5 310v16M368.5 186v16M368.5 310v8M369.5 310v16M370.5 310v16M371.5 314v12M372.5 314v12M373.5 314v12M374.5 310v8M375.5 314v12M376.5 314v4M377.5 314v8M378.5 314v12M379.5 310v16M380.5 310v16M381.5 306v20M382.5 310v16M383.5 310v16M384.5 310v8M385.5 310v8M386.5 310v16M387.5 310v16M388.5 310v16M389.5 310v16M392.5 310v16M393.5 310v16M394.5 310v16M395.5 302v24M396.5 310v16M397.5 310v16M398.5 302v24M401.5 310v16M402.5 310v12M403.5 310v16M404.5 310v16M405.5 310v8M406.5 310v20M407.5 310v20M408.5 310v20M409.5 310v20M410.5 195v19M410.5 217v4M410.5 310v20M411.5 195v19M411.5 302v28M412.5 198v16M412.5 217v1M412.5 310v20M413.5 310v12M414.5 310v16M415.5 310v16M416.5 310v16M417.5 310v16M418.5 310v12M419.5 310v12M420.5 306v16M421.5 310v12M422.5 310v12M423.5 306v16M424.5 310v12M427.5 297v15M428.5 289v19M429.5 297v7M430.5 297v11M431.5 289v23M432.5 297v15M433.5 297v15M434.5 297v15M435.5 293v11M438.5 170v12M438.5 185v5M438.5 293v11M439.5 289v15M440.5 174v8M440.5 185v7M440.5 293v19M441.5 162v20M441.5 185v11M441.5 293v19M442.5 175v7M442.5 185v6M442.5 285v27M443.5 181v1M443.5 185v12M443.5 289v27M444.5 293v23M445.5 170v12M445.5 185v9M445.5 293v15M446.5 170v12M446.5 185v11M446.5 293v15M447.5 168v14M447.5 185v19M447.5 293v15M448.5 289v23M449.5 166v16M449.5 185v13M449.5 293v19M450.5 285v27M451.5 293v11M452.5 293v11M453.5 289v23M454.5 293v19M455.5 293v11M456.5 289v19M457.5 293v11M458.5 293v19M459.5 293v19M460.5 297v15M461.5 297v11M462.5 297v7M463.5 297v15M464.5 169v12M464.5 297v11M465.5 172v10M465.5 297v15M466.5 168v14M466.5 185v1M466.5 297v15M467.5 171v10M467.5 297v15M468.5 297v15M469.5 297v15M472.5 289v23M473.5 297v11M474.5 297v15M475.5 297v11M476.5 297v15M477.5 297v15M478.5 289v23M479.5 293v19M481.5 289v23M482.5 297v11M483.5 297v15M484.5 289v23M485.5 297v15M486.5 297v11M487.5 297v15M488.5 297v15M489.5 297v7M490.5 297v15M491.5 297v7M492.5 297v11M493.5 297v7M494.5 293v15M495.5 297v11M496.5 176v6M496.5 185v14M496.5 297v15M497.5 168v14M497.5 185v23M497.5 293v19M498.5 169v13M498.5 185v20M498.5 289v23M499.5 180v2M499.5 185v13M499.5 297v15M500.5 179v3M500.5 185v12M500.5 297v15M501.5 297v7M502.5 172v10M502.5 185v5M502.5 297v7M503.5 297v11M504.5 297v7M505.5 297v7M508.5 297v15M509.5 297v15M510.5 297v7M511.5 297v15M512.5 297v15M513.5 297v7M514.5 293v19M515.5 293v19M516.5 289v23M519.5 293v15M520.5 168v14M520.5 185v3M520.5 297v15M521.5 172v10M521.5 185v5M521.5 297v15M522.5 297v7M523.5 162v20M523.5 185v7M523.5 297v15M524.5 297v7M525.5 165v17M525.5 185v6M525.5 297v15M526.5 168v14M526.5 185v3M526.5 297v15M527.5 160v22M527.5 185v17M527.5 301v11M528.5 170v12M528.5 185v3M528.5 301v11M529.5 301v11M530.5 160v22M530.5 185v11M530.5 301v11M531.5 162v20M531.5 185v7M531.5 301v7M532.5 301v11M533.5 293v19M534.5 297v7M535.5 297v15M536.5 297v15M537.5 293v11M538.5 289v19M539.5 297v15M540.5 297v19M541.5 297v19M542.5 289v27M543.5 297v19M544.5 297v19M545.5 289v27M546.5 297v19M547.5 297v19M548.5 297v15M549.5 297v15M550.5 289v23M553.5 297v15M554.5 297v15M555.5 297v11M556.5 297v7M557.5 293v15M558.5 289v11M559.5 297v11M562.5 297v15M563.5 297v15M564.5 293v19M565.5 293v11M566.5 285v27M567.5 289v19M568.5 293v19M569.5 293v19M570.5 289v23M571.5 293v19M572.5 297v11M573.5 297v7M574.5 289v23M575.5 297v15M576.5 297v15M577.5 175v7M577.5 185v16M577.5 297v19M578.5 168v14M578.5 185v13M578.5 293v15M579.5 171v11M579.5 185v12M579.5 297v19M580.5 173v9M580.5 185v14M580.5 293v23M581.5 169v13M581.5 185v26M581.5 297v19M582.5 175v7M582.5 185v10M582.5 297v15M583.5 289v23M584.5 293v19M585.5 173v9M585.5 185v10M585.5 297v15M589.5 307v16M590.5 307v16M591.5 307v16M592.5 307v16M593.5 303v20M594.5 307v8M595.5 299v24M596.5 303v20M599.5 307v20M600.5 307v20M601.5 307v20M602.5 307v20M603.5 307v20M604.5 307v20M605.5 307v16M606.5 307v16M607.5 194v16M607.5 307v16M608.5 307v16M609.5 185v26M609.5 307v16M610.5 191v12M610.5 307v16M611.5 299v20M612.5 196v14M612.5 307v16M613.5 195v16M613.5 307v8M614.5 189v14M614.5 307v8M615.5 194v14M615.5 299v24M616.5 307v8M617.5 303v20M618.5 307v16M619.5 307v16M620.5 307v16M621.5 303v20M622.5 303v20M623.5 303v20M624.5 303v20M625.5 299v24M626.5 295v28M627.5 303v20M628.5 303v12M629.5 307v8M630.5 307v16M631.5 307v16M634.5 307v16M635.5 303v20M636.5 307v12M637.5 307v16M638.5 303v16M639.5 307v16M640.5 307v16M643.5 299v16M644.5 303v12M645.5 307v16M646.5 303v16M647.5 213v1M647.5 217v12M647.5 307v12M648.5 224v10M648.5 307v16M649.5 217v14M649.5 307v16M650.5 303v20M651.5 307v16M652.5 299v24M653.5 307v16M654.5 307v16M655.5 307v16M656.5 199v15M656.5 307v16M657.5 200v14M657.5 217v1M657.5 307v12M658.5 194v20M658.5 217v7M658.5 307v12M659.5 191v22M659.5 299v24M660.5 188v26M660.5 217v3M660.5 299v24M661.5 194v16M661.5 307v16M662.5 197v17M662.5 217v4M662.5 307v16M663.5 307v16M664.5 202v12M664.5 307v12M665.5 197v16M665.5 307v16M666.5 303v20M667.5 299v24M668.5 307v16M669.5 307v12M678.5 298v17M679.5 300v14M680.5 299v17M682.5 293v13M683.5 293v11M684.5 315v2M685.5 315v1M687.5 319v1M690.5 328v1"/>
<path stroke="#00ff80" d="M84.5 316v16M85.5 318v16M86.5 316v16M87.5 319v18M88.5 318v12M88.5 331v3M89.5 319v3M89.5 323v3M89.5 327v9M90.5 319v17M91.5 318v21M92.5 320v18M93.5 320v18M94.5 324v13M95.5 323v19M96.5 324v15M97.5 326v14M98.5 324v16M99.5 327v15M100.5 324v19M101.5 325v18M102.5 328v17M103.5 326v18M104.5 328v19M111.5 322v12M112.5 322v16M113.5 322v20M114.5 322v20M115.5 322v16M116.5 314v28M117.5 314v28M118.5 322v20M119.5 322v20M120.5 322v20M121.5 322v20M122.5 322v20M123.5 322v20M124.5 322v20M125.5 322v20M126.5 322v20M127.5 318v24M128.5 326v16M129.5 326v16M130.5 326v16M131.5 318v24M132.5 326v16M133.5 326v16M134.5 318v24M135.5 326v16M136.5 326v16M137.5 326v16M138.5 326v16M139.5 326v8M140.5 318v24M141.5 326v20M142.5 326v20M143.5 326v20M144.5 326v20M145.5 326v20M146.5 326v16M149.5 322v24M150.5 326v20M151.5 326v20M152.5 322v24M153.5 326v20M154.5 326v20M155.5 318v28M156.5 322v24M159.5 326v20M160.5 318v16M161.5 326v16M162.5 326v16M163.5 326v16M164.5 326v16M165.5 326v16M166.5 326v8M167.5 326v16M168.5 326v16M169.5 326v16M170.5 326v16M171.5 326v8M172.5 326v16M173.5 326v16M174.5 318v24M175.5 326v16M176.5 318v24M177.5 322v20M178.5 318v24M179.5 326v16M180.5 326v16M181.5 326v16M184.5 326v16M185.5 326v12M186.5 322v20M187.5 314v24M188.5 314v28M189.5 326v16M190.5 318v24M191.5 326v16M192.5 326v16M193.5 326v16M194.5 318v24M195.5 326v16M196.5 326v16M197.5 322v12M198.5 330v12M199.5 322v12M200.5 330v12M201.5 330v12M202.5 322v20M203.5 330v4M204.5 322v16M205.5 330v4M206.5 326v12M207.5 330v4M208.5 330v8M210.5 330v8M211.5 330v8M212.5 330v8M213.5 330v8M214.5 322v16M215.5 322v16M216.5 326v12M217.5 326v12M218.5 326v12M219.5 330v8M220.5 330v8M221.5 330v8M222.5 322v16M223.5 322v16M224.5 326v12M225.5 330v8M226.5 318v20M227.5 318v24M228.5 326v16M229.5 318v24M230.5 326v16M231.5 322v20M232.5 326v16M233.5 326v16M237.5 322v16M238.5 322v20M239.5 322v20M240.5 322v20M241.5 322v20M242.5 326v16M243.5 322v20M244.5 322v20M245.5 318v24M246.5 326v16M247.5 326v8M248.5 318v24M249.5 322v20M250.5 326v16M251.5 326v16M252.5 322v20M253.5 330v12M254.5 322v20M255.5 330v8M256.5 330v12M257.5 330v12M258.5 330v12M259.5 330v12M260.5 330v8M261.5 330v4M262.5 322v12M263.5 330v12M264.5 322v24M265.5 330v12M266.5 330v16M267.5 322v24M268.5 326v12M269.5 326v16M270.5 322v20M271.5 326v16M272.5 326v16M273.5 326v16M274.5 326v16M277.5 326v16M278.5 326v20M279.5 326v20M280.5 318v24M281.5 326v20M282.5 326v12M283.5 322v20M284.5 330v16M285.5 330v12M286.5 330v16M287.5 330v16M288.5 330v8M289.5 322v24M290.5 330v16M291.5 322v24M292.5 326v20M293.5 322v24M294.5 322v16M295.5 326v20M296.5 326v16M297.5 326v12M298.5 326v8M299.5 326v8M300.5 326v16M301.5 326v16M302.5 326v16M303.5 326v16M304.5 326v16M305.5 318v20M306.5 326v16M307.5 326v8M308.5 326v16M311.5 322v20M312.5 326v16M313.5 326v8M314.5 326v8M315.5 326v16M316.5 326v12M317.5 318v16M318.5 326v8M321.5 326v8M322.5 326v16M323.5 318v16M324.5 322v16M325.5 318v16M326.5 326v16M327.5 322v20M328.5 326v16M329.5 318v24M330.5 326v16M331.5 330v12M332.5 322v20M333.5 318v24M334.5 326v16M335.5 326v16M336.5 326v16M337.5 326v16M338.5 322v20M339.5 326v12M340.5 318v20M341.5 326v16M342.5 326v16M343.5 326v16M346.5 326v16M347.5 326v16M348.5 318v24M349.5 326v8M350.5 318v24M351.5 326v16M352.5 326v16M353.5 326v16M354.5 326v16M357.5 330v12M358.5 330v12M359.5 326v16M360.5 326v16M361.5 326v16M362.5 326v16M363.5 318v24M364.5 326v12M365.5 326v16M366.5 326v16M367.5 326v16M368.5 318v24M369.5 326v16M370.5 326v8M371.5 326v8M372.5 326v16M373.5 326v16M374.5 318v20M375.5 326v16M376.5 318v20M377.5 322v20M378.5 326v16M379.5 326v16M380.5 326v16M381.5 326v12M382.5 326v12M383.5 326v16M384.5 318v24M385.5 318v24M386.5 326v12M387.5 326v16M388.5 326v16M389.5 326v16M392.5 326v16M393.5 326v16M394.5 326v16M395.5 326v12M396.5 326v16M397.5 326v16M398.5 326v16M401.5 326v12M402.5 322v20M403.5 326v16M404.5 326v12M405.5 318v24M406.5 330v12M407.5 330v12M408.5 330v12M409.5 330v12M410.5 330v4M411.5 330v12M412.5 330v12M413.5 322v20M414.5 326v16M415.5 326v12M416.5 326v16M417.5 326v16M418.5 322v20M419.5 322v20M420.5 322v20M421.5 322v12M422.5 322v20M423.5 322v16M424.5 322v16M427.5 312v2M428.5 308v6M429.5 304v10M430.5 308v14M431.5 312v14M432.5 312v14M433.5 312v10M434.5 312v14M435.5 304v14M438.5 304v14M439.5 304v14M440.5 312v14M441.5 312v2M442.5 312v10M443.5 316v6M444.5 316v6M445.5 308v10M446.5 308v6M447.5 308v6M448.5 312v10M449.5 312v10M450.5 312v10M451.5 304v10M452.5 304v18M453.5 312v10M454.5 312v10M455.5 304v10M456.5 308v18M457.5 304v22M458.5 312v14M459.5 312v14M460.5 312v10M461.5 308v18M462.5 304v22M463.5 312v14M464.5 308v10M465.5 312v14M466.5 312v10M467.5 312v14M468.5 312v14M469.5 312v14M472.5 312v10M473.5 308v10M474.5 312v10M475.5 308v10M476.5 312v10M477.5 312v10M478.5 312v2M479.5 312v10M481.5 312v6M482.5 308v14M483.5 312v10M484.5 312v10M485.5 312v10M486.5 308v6M487.5 312v2M488.5 312v10M489.5 304v18M490.5 312v10M491.5 304v18M492.5 308v14M493.5 304v18M494.5 308v14M495.5 308v14M496.5 312v14M497.5 312v14M498.5 312v14M499.5 312v10M500.5 312v10M501.5 304v22M502.5 304v22M503.5 308v18M504.5 304v22M505.5 304v22M508.5 312v18M509.5 312v18M510.5 304v26M511.5 312v18M512.5 312v18M513.5 304v22M514.5 312v18M515.5 312v18M516.5 312v18M519.5 308v14M520.5 312v14M521.5 312v14M522.5 304v22M523.5 312v14M524.5 304v18M525.5 312v6M526.5 312v14M527.5 312v6M528.5 312v14M529.5 312v10M530.5 312v6M531.5 308v18M532.5 312v14M533.5 312v6M534.5 304v22M535.5 312v6M536.5 312v14M537.5 304v22M538.5 308v18M539.5 312v6M540.5 316v10M541.5 316v10M542.5 316v6M543.5 316v10M544.5 316v2M545.5 316v10M546.5 316v10M547.5 316v2M548.5 312v14M549.5 312v14M550.5 312v14M553.5 312v14M554.5 312v14M555.5 308v18M556.5 304v18M557.5 308v10M558.5 300v26M559.5 308v18M562.5 312v14M563.5 312v14M564.5 312v14M565.5 304v14M566.5 312v10M567.5 308v18M568.5 312v14M569.5 312v6M570.5 312v14M571.5 312v14M572.5 308v18M573.5 304v22M574.5 312v14M575.5 312v14M576.5 312v6M577.5 316v10M578.5 308v22M579.5 316v14M580.5 316v10M581.5 316v14M582.5 312v14M583.5 312v10M584.5 312v14M585.5 312v10M589.5 323v15M590.5 323v15M591.5 323v15M592.5 323v15M593.5 323v15M594.5 315v23M595.5 323v15M596.5 323v15M599.5 327v11M600.5 327v11M601.5 327v11M602.5 327v11M603.5 327v11M604.5 327v7M605.5 323v15M606.5 323v11M607.5 323v19M608.5 323v19M609.5 323v19M610.5 323v19M611.5 319v23M612.5 323v19M613.5 315v27M614.5 315v27M615.5 323v19M616.5 315v27M617.5 323v19M618.5 323v7M619.5 323v15M620.5 323v15M621.5 323v11M622.5 323v15M623.5 323v15M624.5 323v15M625.5 323v15M626.5 323v7M627.5 323v11M628.5 315v19M629.5 315v15M630.5 323v15M631.5 323v15M634.5 323v15M635.5 323v7M636.5 319v19M637.5 323v15M638.5 319v19M639.5 323v15M640.5 323v15M643.5 315v23M644.5 315v23M645.5 323v15M646.5 319v19M647.5 319v11M648.5 323v15M649.5 323v15M650.5 323v15M651.5 323v15M652.5 323v15M653.5 323v11M654.5 323v15M655.5 323v15M656.5 323v15M657.5 319v19M658.5 319v19M659.5 323v15M660.5 323v15M661.5 323v11M662.5 323v7M663.5 323v15M664.5 319v19M665.5 323v15M666.5 323v15M667.5 323v7M668.5 323v7M669.5 319v15M678.5 315v15M679.5 314v16M680.5 316v15M682.5 306v11M683.5 304v15M684.5 317v3M685.5 316v3M686.5 317v1M687.5 320v1"/>
<path stroke="#00ff40" d="M84.5 332v16M85.5 334v15M86.5 332v18M87.5 337v5M87.5 343v3M87.5 347v3M88.5 335v3M88.5 339v12M89.5 336v16M90.5 336v19M91.5 339v16M92.5 338v16M93.5 338v16M94.5 337v21M95.5 342v15M96.5 339v20M97.5 340v17M98.5 340v19M99.5 342v18M100.5 343v19M101.5 343v16M102.5 345v15M103.5 344v17M104.5 347v13M111.5 334v25M112.5 338v21M113.5 342v13M114.5 342v17M115.5 338v17M116.5 342v17M117.5 342v17M118.5 342v17M119.5 342v17M120.5 342v13M121.5 342v17M122.5 342v17M123.5 342v17M124.5 342v13M125.5 342v17M126.5 342v9M127.5 342v17M128.5 342v9M129.5 342v17M130.5 342v13M131.5 342v17M132.5 342v17M133.5 342v9M134.5 342v13M135.5 342v13M136.5 342v17M137.5 342v17M138.5 342v17M139.5 334v25M140.5 342v17M141.5 346v13M142.5 346v13M143.5 346v5M144.5 346v13M145.5 346v13M146.5 342v17M149.5 346v13M150.5 346v13M151.5 346v13M152.5 346v13M153.5 346v13M154.5 346v13M155.5 346v13M156.5 346v13M159.5 346v13M160.5 334v25M161.5 342v17M162.5 342v17M163.5 342v17M164.5 342v17M165.5 342v17M166.5 334v25M167.5 342v17M168.5 342v17M169.5 342v17M170.5 342v17M171.5 334v25M172.5 342v17M173.5 342v9M174.5 342v17M175.5 342v17M176.5 342v17M177.5 342v17M178.5 342v9M179.5 342v17M180.5 342v17M181.5 342v17M184.5 342v17M185.5 338v25M186.5 342v21M187.5 338v25M188.5 342v13M189.5 342v21M190.5 342v21M191.5 342v21M192.5 342v13M193.5 342v17M194.5 342v17M195.5 342v17M196.5 342v13M197.5 334v17M198.5 342v17M199.5 334v25M200.5 342v9M201.5 342v17M202.5 342v17M203.5 334v25M204.5 338v21M205.5 334v25M206.5 338v21M207.5 334v29M208.5 338v21M209.5 330v33M210.5 338v25M211.5 338v25M212.5 338v25M213.5 338v25M214.5 338v25M215.5 338v17M216.5 338v25M217.5 338v25M218.5 338v25M219.5 338v25M220.5 338v25M221.5 338v25M222.5 338v25M223.5 338v25M224.5 338v25M225.5 338v25M226.5 338v17M227.5 342v17M228.5 342v13M229.5 342v13M230.5 342v21M231.5 342v17M232.5 342v21M233.5 342v13M237.5 338v21M238.5 342v17M239.5 342v17M240.5 342v17M241.5 342v17M242.5 342v17M243.5 342v17M244.5 342v9M245.5 342v9M246.5 342v17M247.5 334v25M248.5 342v17M249.5 342v9M250.5 342v17M251.5 342v21M252.5 342v21M253.5 342v21M254.5 342v21M255.5 338v21M256.5 342v21M257.5 342v17M258.5 342v17M259.5 342v17M260.5 338v21M261.5 334v25M262.5 334v25M263.5 342v17M264.5 346v13M265.5 342v17M266.5 346v9M267.5 346v13M268.5 338v17M269.5 342v17M270.5 342v17M271.5 342v13M272.5 342v17M273.5 342v17M274.5 342v17M277.5 342v9M278.5 346v13M279.5 346v17M280.5 342v21M281.5 346v9M282.5 338v21M283.5 342v21M284.5 346v17M285.5 342v17M286.5 346v13M287.5 346v13M288.5 338v21M289.5 346v13M290.5 346v13M291.5 346v13M292.5 346v13M293.5 346v13M294.5 338v13M295.5 346v13M296.5 342v13M297.5 338v21M298.5 334v25M299.5 334v17M300.5 342v9M301.5 342v9M302.5 342v17M303.5 342v17M304.5 342v17M305.5 338v17M306.5 342v9M307.5 334v25M308.5 342v17M311.5 342v17M312.5 342v17M313.5 334v25M314.5 334v25M315.5 342v13M316.5 338v21M317.5 334v21M318.5 334v25M321.5 334v25M322.5 342v17M323.5 334v21M324.5 338v21M325.5 334v25M326.5 342v17M327.5 342v17M328.5 342v17M329.5 342v17M330.5 342v13M331.5 342v13M332.5 342v13M333.5 342v9M334.5 342v13M335.5 342v17M336.5 342v17M337.5 342v17M338.5 342v17M339.5 338v21M340.5 338v17M341.5 342v13M342.5 342v21M343.5 342v21M346.5 342v21M347.5 342v21M348.5 342v21M349.5 334v29M350.5 342v21M351.5 342v21M352.5 342v21M353.5 342v21M354.5 342v21M357.5 342v21M358.5 342v21M359.5 342v13M360.5 342v21M361.5 342v21M362.5 342v21M363.5 342v17M364.5 338v21M365.5 342v17M366.5 342v9M367.5 342v17M368.5 342v17M369.5 342v17M370.5 334v25M371.5 334v21M372.5 342v17M373.5 342v17M374.5 338v21M375.5 342v9M376.5 338v21M377.5 342v17M378.5 342v17M379.5 342v17M380.5 342v17M381.5 338v21M382.5 338v17M383.5 342v9M384.5 342v17M385.5 342v21M386.5 338v21M387.5 342v21M388.5 342v13M389.5 342v21M392.5 342v21M393.5 342v13M394.5 342v21M395.5 338v21M396.5 342v17M397.5 342v13M398.5 342v13M401.5 338v21M402.5 342v17M403.5 342v17M404.5 338v21M405.5 342v17M406.5 342v17M407.5 342v17M408.5 342v17M409.5 342v13M410.5 334v25M411.5 342v17M412.5 342v17M413.5 342v9M414.5 342v17M415.5 338v21M416.5 342v17M417.5 342v17M418.5 342v17M419.5 342v17M420.5 342v17M421.5 334v25M422.5 342v13M423.5 338v13M424.5 338v21M427.5 314v24M428.5 314v24M429.5 314v24M430.5 322v8M431.5 326v12M432.5 326v12M433.5 322v13M434.5 326v8M435.5 318v20M438.5 318v17M439.5 318v17M440.5 326v4M441.5 314v24M442.5 322v8M443.5 322v16M444.5 322v16M445.5 318v16M446.5 314v24M447.5 314v24M448.5 322v16M449.5 322v16M450.5 322v16M451.5 314v16M452.5 322v16M453.5 322v8M454.5 322v13M455.5 314v21M456.5 326v9M457.5 326v9M458.5 326v9M459.5 326v4M460.5 322v16M461.5 326v12M462.5 326v12M463.5 326v12M464.5 318v16M465.5 326v12M466.5 322v12M467.5 326v9M468.5 326v9M469.5 326v9M472.5 322v13M473.5 318v17M474.5 322v13M475.5 318v17M476.5 322v13M477.5 322v13M478.5 314v21M479.5 322v13M481.5 318v17M482.5 322v13M483.5 322v13M484.5 322v13M485.5 322v13M486.5 314v20M487.5 314v21M488.5 322v20M489.5 322v12M490.5 322v20M491.5 322v16M492.5 322v16M493.5 322v16M494.5 322v13M495.5 322v12M496.5 326v12M497.5 326v12M498.5 326v12M499.5 322v12M500.5 322v16M501.5 326v12M502.5 326v9M503.5 326v12M504.5 326v12M505.5 326v8M508.5 330v8M512.5 330v8M513.5 326v12M514.5 330v4M516.5 330v8M519.5 322v16M520.5 326v4M521.5 326v8M522.5 326v9M523.5 326v9M524.5 322v16M525.5 318v17M526.5 326v8M527.5 318v20M528.5 326v12M529.5 322v16M530.5 318v16M531.5 326v12M532.5 326v12M533.5 318v17M534.5 326v9M535.5 318v16M536.5 326v9M537.5 326v9M538.5 326v9M539.5 318v17M540.5 326v12M541.5 326v12M542.5 322v16M543.5 326v12M544.5 318v20M545.5 326v12M546.5 326v4M547.5 318v20M548.5 326v9M549.5 326v8M550.5 326v9M553.5 326v8M554.5 326v4M555.5 326v9M556.5 322v13M557.5 318v17M558.5 326v9M559.5 326v8M562.5 326v9M563.5 326v8M564.5 326v8M565.5 318v17M566.5 322v13M567.5 326v16M568.5 326v16M569.5 318v24M570.5 326v16M571.5 326v16M572.5 326v16M573.5 326v16M574.5 326v16M575.5 326v16M576.5 318v20M577.5 326v16M578.5 330v8M579.5 330v12M580.5 326v16M581.5 330v12M582.5 326v12M583.5 322v20M584.5 326v9M585.5 322v20M589.5 338v17M590.5 338v17M591.5 338v13M592.5 338v13M593.5 338v17M594.5 338v17M595.5 338v17M596.5 338v17M599.5 338v17M600.5 338v13M601.5 338v17M602.5 338v17M603.5 338v17M604.5 334v13M605.5 338v17M606.5 334v13M607.5 342v13M608.5 342v5M609.5 342v13M610.5 342v13M611.5 342v13M612.5 342v13M613.5 342v13M614.5 342v13M615.5 342v13M616.5 342v13M617.5 342v5M618.5 330v25M619.5 338v17M620.5 338v17M621.5 334v13M622.5 338v9M623.5 338v17M624.5 338v17M625.5 338v13M626.5 330v21M627.5 334v21M628.5 334v21M629.5 330v21M630.5 338v17M631.5 338v17M634.5 338v17M635.5 330v25M636.5 338v17M637.5 338v13M638.5 338v17M639.5 338v17M640.5 338v9M643.5 338v17M644.5 338v17M645.5 338v17M646.5 338v13M647.5 330v25M648.5 338v9M649.5 338v17M650.5 338v17M651.5 338v17M652.5 338v17M653.5 334v13M654.5 338v9M655.5 338v9M656.5 338v17M657.5 338v9M658.5 338v17M659.5 338v17M660.5 338v17M661.5 334v21M662.5 330v25M663.5 338v9M664.5 338v13M665.5 338v9M666.5 338v13M667.5 330v21M668.5 330v13M669.5 334v17M678.5 330v14M679.5 330v14M680.5 331v14M682.5 317v19M683.5 319v14M684.5 320v16M685.5 319v16M686.5 318v19M687.5 321v15M688.5 322v15M689.5 326v13M690.5 329v11M691.5 331v12M692.5 336v6"/>
<path stroke="#00ffff" d="M85.5 293v9M86.5 210v24M86.5 291v12M87.5 199v49M87.5 295v7M88.5 187v45M88.5 292v12M89.5 176v72M89.5 294v11M90.5 199v50M90.5 293v12M91.5 154v94M91.5 295v7M92.5 143v107M92.5 290v8M92.5 299v3M92.5 303v2M93.5 132v115M93.5 296v11M94.5 128v122M94.5 294v12M95.5 158v91M95.5 295v10M96.5 140v93M96.5 297v10M97.5 123v126M97.5 293v14M98.5 132v118M98.5 251v1M98.5 293v16M99.5 141v102M99.5 249v1M99.5 297v13M100.5 112v127M100.5 248v5M100.5 296v14M101.5 126v109M101.5 297v11M102.5 114v116M102.5 239v12M102.5 297v14M103.5 131v91M103.5 223v4M103.5 235v6M103.5 293v17M104.5 109v112M104.5 224v2M104.5 230v5M104.5 295v19M111.5 105v109M111.5 217v33M111.5 296v6M112.5 106v108M112.5 217v33M112.5 296v14M113.5 95v119M113.5 217v33M113.5 296v10M114.5 103v111M114.5 217v33M114.5 291v19M115.5 106v108M115.5 217v23M115.5 291v19M116.5 119v95M116.5 217v27M116.5 291v19M117.5 125v89M117.5 217v27M117.5 296v10M118.5 123v91M118.5 217v28M118.5 291v15M119.5 111v103M119.5 217v13M119.5 291v19M120.5 118v96M120.5 217v18M120.5 291v11M121.5 119v95M121.5 217v13M121.5 296v6M122.5 85v129M122.5 217v9M122.5 291v19M123.5 124v90M123.5 217v10M123.5 291v19M124.5 126v88M124.5 217v5M124.5 296v14M125.5 127v87M125.5 217v7M125.5 291v19M126.5 114v100M126.5 217v5M126.5 291v19M127.5 79v135M127.5 217v14M127.5 291v15M128.5 73v141M128.5 217v11M128.5 291v15M129.5 105v109M129.5 217v20M129.5 291v19M130.5 142v72M130.5 217v24M130.5 296v10M131.5 100v106M131.5 217v28M131.5 296v14M132.5 58v156M132.5 217v31M132.5 296v14M133.5 112v102M133.5 217v33M133.5 296v6M134.5 115v92M134.5 217v33M134.5 301v9M135.5 118v90M135.5 218v32M135.5 296v14M136.5 104v110M136.5 217v28M136.5 296v14M137.5 131v80M137.5 221v14M137.5 296v14M138.5 117v97M138.5 217v18M138.5 296v10M139.5 117v97M139.5 217v28M139.5 296v6M140.5 93v121M140.5 217v28M140.5 296v10M141.5 105v109M141.5 217v28M141.5 296v6M142.5 129v85M142.5 217v28M142.5 296v14M143.5 131v83M143.5 217v28M143.5 301v5M144.5 71v143M144.5 217v33M144.5 296v6M145.5 80v134M145.5 217v33M145.5 291v15M146.5 125v89M146.5 217v33M146.5 291v15M149.5 97v117M149.5 217v28M149.5 291v15M150.5 105v109M150.5 217v38M150.5 296v10M151.5 65v149M151.5 217v33M151.5 296v10M152.5 111v103M152.5 217v38M153.5 103v111M153.5 217v38M153.5 296v10M154.5 109v105M154.5 217v28M154.5 296v6M155.5 120v94M155.5 217v38M155.5 301v9M156.5 124v90M156.5 217v33M156.5 296v6M159.5 131v83M159.5 217v1M159.5 224v21M159.5 296v14M160.5 109v104M160.5 221v24M160.5 296v2M161.5 121v93M161.5 222v28M161.5 296v10M162.5 121v91M162.5 220v25M162.5 291v15M163.5 116v98M163.5 220v30M163.5 291v15M164.5 120v94M164.5 217v28M164.5 291v15M165.5 119v95M165.5 217v33M165.5 291v15M166.5 123v91M166.5 217v33M166.5 291v11M167.5 106v108M167.5 217v23M167.5 291v11M168.5 118v96M168.5 217v23M168.5 291v7M169.5 121v93M169.5 217v33M169.5 296v10M170.5 151v63M170.5 217v28M170.5 296v10M171.5 103v111M171.5 217v28M171.5 291v15M172.5 84v130M172.5 217v25M172.5 291v19M173.5 58v156M173.5 217v29M173.5 291v19M174.5 112v102M174.5 217v25M174.5 291v19M175.5 119v95M175.5 217v28M175.5 291v15M176.5 132v82M176.5 217v33M176.5 296v14M177.5 97v117M177.5 217v25M177.5 301v1M178.5 105v109M178.5 217v33M178.5 301v9M179.5 102v41M179.5 144v52M179.5 210v4M179.5 217v26M179.5 296v10M180.5 77v68M180.5 146v1M180.5 148v41M180.5 205v9M180.5 217v30M180.5 296v14M181.5 88v53M181.5 142v2M181.5 145v44M181.5 213v1M181.5 217v33M181.5 296v14M184.5 101v41M184.5 143v49M184.5 204v10M184.5 217v38M184.5 296v14M185.5 58v85M185.5 144v70M185.5 217v38M185.5 296v14M186.5 115v27M186.5 143v71M186.5 217v38M186.5 301v9M187.5 75v68M187.5 144v70M187.5 217v38M187.5 296v14M188.5 105v109M188.5 217v38M188.5 301v9M189.5 109v105M189.5 217v38M189.5 291v11M190.5 109v105M190.5 217v23M190.5 291v19M191.5 107v107M191.5 217v33M191.5 296v14M192.5 145v69M192.5 217v28M192.5 291v19M193.5 102v112M193.5 217v33M193.5 286v24M194.5 113v101M194.5 217v33M194.5 286v24M195.5 81v133M195.5 217v33M195.5 286v16M196.5 90v124M196.5 217v33M196.5 286v24M197.5 101v113M197.5 217v33M197.5 286v20M198.5 69v145M198.5 217v33M198.5 286v24M199.5 58v156M199.5 217v33M199.5 286v16M200.5 81v133M200.5 217v28M200.5 291v19M201.5 154v60M201.5 217v28M201.5 291v19M202.5 132v82M202.5 217v28M202.5 291v19M203.5 129v85M203.5 217v28M203.5 291v19M204.5 160v54M204.5 217v28M204.5 296v14M205.5 85v129M205.5 217v28M205.5 291v11M206.5 134v80M206.5 217v28M206.5 296v14M207.5 126v88M207.5 217v28M207.5 291v19M208.5 131v83M208.5 217v28M208.5 296v14M209.5 95v119M209.5 217v33M209.5 291v19M210.5 136v78M210.5 217v33M210.5 291v19M211.5 135v79M211.5 217v33M211.5 291v19M212.5 170v44M212.5 217v33M212.5 291v19M213.5 106v108M213.5 217v38M213.5 296v6M214.5 142v72M214.5 217v33M214.5 291v19M215.5 131v83M215.5 217v28M215.5 291v19M216.5 133v81M216.5 217v33M216.5 291v15M217.5 96v118M217.5 217v28M217.5 296v10M218.5 134v80M218.5 217v33M218.5 291v11M219.5 108v106M219.5 217v28M219.5 291v19M220.5 120v94M220.5 217v33M220.5 291v15M221.5 133v81M221.5 217v33M221.5 296v14M222.5 143v71M222.5 217v33M222.5 291v19M223.5 107v107M223.5 217v33M223.5 291v19M224.5 130v84M224.5 217v33M224.5 296v14M225.5 77v137M225.5 217v33M225.5 296v10M226.5 122v92M226.5 217v33M226.5 291v19M227.5 95v119M227.5 217v33M227.5 296v14M228.5 131v83M228.5 217v33M228.5 296v14M229.5 120v94M229.5 217v33M229.5 296v14M230.5 68v146M230.5 217v33M230.5 296v14M231.5 110v104M231.5 217v33M231.5 296v14M232.5 128v86M232.5 217v33M232.5 301v9M233.5 124v90M233.5 217v23M233.5 296v6M237.5 132v82M237.5 217v33M237.5 286v16M238.5 125v89M238.5 217v33M238.5 291v19M239.5 110v104M239.5 217v33M239.5 286v24M240.5 120v94M240.5 217v23M240.5 291v19M241.5 116v98M241.5 217v23M241.5 296v14M242.5 78v136M242.5 217v28M242.5 291v15M243.5 117v97M243.5 217v28M243.5 296v14M244.5 130v84M244.5 217v23M244.5 296v10M245.5 85v129M245.5 217v28M245.5 296v10M246.5 127v87M246.5 217v28M246.5 296v14M247.5 96v118M247.5 217v28M247.5 296v6M248.5 121v93M248.5 217v28M248.5 301v9M249.5 115v99M249.5 217v23M249.5 291v19M250.5 115v99M250.5 217v28M250.5 291v15M251.5 110v104M251.5 217v28M251.5 291v7M252.5 97v117M252.5 217v23M252.5 296v6M253.5 89v125M253.5 217v13M253.5 291v15M254.5 74v140M254.5 217v18M254.5 296v10M255.5 111v103M255.5 217v28M255.5 301v9M256.5 108v106M256.5 217v28M256.5 296v14M257.5 105v109M257.5 217v33M257.5 296v14M258.5 67v147M258.5 217v33M258.5 296v14M259.5 115v99M259.5 217v38M259.5 301v9M260.5 120v94M260.5 217v38M260.5 296v14M261.5 163v51M261.5 217v38M261.5 296v6M262.5 58v156M262.5 217v33M262.5 296v14M263.5 110v104M263.5 217v38M263.5 296v6M264.5 109v105M264.5 217v38M264.5 301v5M265.5 130v84M265.5 217v33M265.5 291v15M266.5 105v109M266.5 217v33M266.5 291v19M267.5 121v93M267.5 217v33M267.5 291v15M268.5 125v89M268.5 217v3M268.5 226v24M268.5 291v19M269.5 104v110M269.5 217v2M269.5 233v17M269.5 291v19M270.5 126v84M270.5 226v24M270.5 291v19M271.5 139v75M271.5 223v27M271.5 286v24M272.5 126v88M272.5 217v33M272.5 286v24M273.5 111v103M273.5 217v33M273.5 286v24M274.5 112v102M274.5 217v28M274.5 286v20M277.5 118v96M277.5 217v38M277.5 286v24M278.5 138v76M278.5 217v38M278.5 286v16M279.5 95v105M279.5 217v37M279.5 291v19M280.5 140v74M280.5 217v30M280.5 286v24M281.5 135v64M281.5 217v12M281.5 286v24M282.5 140v56M282.5 212v2M282.5 217v14M282.5 286v24M283.5 150v44M283.5 291v19M284.5 152v44M284.5 220v3M284.5 291v11M285.5 149v41M285.5 212v2M285.5 217v12M285.5 291v19M286.5 140v49M286.5 217v10M286.5 296v6M287.5 132v65M287.5 221v19M287.5 291v19M288.5 140v56M288.5 217v26M288.5 296v10M289.5 148v66M289.5 217v23M289.5 291v15M290.5 145v69M290.5 217v33M290.5 291v11M291.5 146v68M291.5 217v33M291.5 291v15M292.5 150v64M292.5 217v33M292.5 291v11M293.5 140v74M293.5 217v28M293.5 291v15M294.5 121v93M294.5 217v23M294.5 291v15M295.5 147v67M295.5 217v23M295.5 291v15M296.5 142v72M296.5 217v23M296.5 291v15M297.5 143v71M297.5 217v33M297.5 291v7M298.5 124v90M298.5 217v33M298.5 296v6M299.5 119v95M299.5 217v33M299.5 301v9M300.5 146v68M300.5 217v28M300.5 296v14M301.5 114v100M301.5 217v33M301.5 296v14M302.5 148v66M302.5 217v33M302.5 296v14M303.5 142v72M303.5 217v28M303.5 296v14M304.5 137v77M304.5 217v28M304.5 296v10M305.5 135v79M305.5 217v28M305.5 296v14M306.5 109v105M306.5 217v23M306.5 301v9M307.5 134v80M307.5 217v18M307.5 296v14M308.5 133v81M308.5 217v28M308.5 296v14M311.5 128v86M311.5 217v18M311.5 296v14M312.5 126v88M312.5 217v28M312.5 296v14M313.5 118v96M313.5 217v28M313.5 296v14M314.5 124v90M314.5 217v28M314.5 301v9M315.5 125v89M315.5 217v28M315.5 296v14M316.5 90v124M316.5 217v28M316.5 301v9M317.5 121v93M317.5 217v18M317.5 296v14M318.5 83v131M318.5 217v28M318.5 296v6M321.5 87v127M321.5 217v33M321.5 296v10M322.5 61v153M322.5 217v33M322.5 291v15M323.5 70v144M323.5 217v33M323.5 291v11M324.5 169v45M324.5 217v33M324.5 296v10M325.5 127v87M325.5 217v33M325.5 286v20M326.5 90v124M326.5 217v33M326.5 286v24M327.5 76v134M327.5 220v25M327.5 286v16M328.5 111v103M328.5 217v33M328.5 286v20M329.5 83v131M329.5 217v33M329.5 291v19M330.5 103v103M330.5 218v32M330.5 291v19M331.5 155v48M331.5 219v36M331.5 286v20M332.5 163v51M332.5 217v38M332.5 291v15M333.5 100v107M333.5 217v38M333.5 291v19M334.5 116v98M334.5 217v38M334.5 291v19M335.5 105v109M335.5 217v38M335.5 301v9M336.5 145v69M336.5 217v38M336.5 296v10M337.5 130v84M337.5 217v18M337.5 296v6M338.5 106v108M338.5 217v26M338.5 296v14M339.5 131v83M339.5 217v29M339.5 296v6M340.5 78v136M340.5 217v18M340.5 296v14M341.5 115v99M341.5 217v21M341.5 296v14M342.5 122v92M342.5 217v24M342.5 301v9M343.5 118v96M343.5 217v23M343.5 296v14M346.5 97v117M346.5 217v28M346.5 291v19M347.5 138v76M347.5 217v28M347.5 291v19M348.5 148v66M348.5 217v28M348.5 291v19M349.5 100v114M349.5 217v23M349.5 296v6M350.5 113v101M350.5 217v28M350.5 291v19M351.5 71v143M351.5 217v23M351.5 286v28M352.5 124v90M352.5 217v18M352.5 291v23M353.5 117v97M353.5 217v28M353.5 286v28M354.5 118v96M354.5 217v28M354.5 286v28M357.5 132v82M357.5 217v28M357.5 286v28M358.5 128v86M358.5 217v28M358.5 286v24M359.5 122v92M359.5 217v23M359.5 291v19M360.5 102v112M360.5 217v24M360.5 291v19M361.5 84v130M361.5 217v8M361.5 291v19M362.5 108v80M362.5 200v14M362.5 217v20M362.5 296v6M363.5 125v59M363.5 206v8M363.5 217v15M363.5 291v19M364.5 136v42M364.5 204v10M364.5 217v19M364.5 291v19M365.5 95v90M365.5 197v17M365.5 217v12M365.5 291v19M366.5 124v60M366.5 208v6M366.5 217v21M366.5 291v19M367.5 105v82M367.5 209v5M367.5 217v21M367.5 291v19M368.5 120v66M368.5 202v12M368.5 217v18M368.5 291v19M369.5 125v89M369.5 217v28M369.5 296v14M370.5 124v90M370.5 217v28M370.5 291v19M371.5 122v92M371.5 217v23M371.5 291v23M372.5 113v101M372.5 217v23M372.5 291v23M373.5 97v117M373.5 217v23M373.5 291v23M374.5 64v150M374.5 217v23M374.5 291v19M375.5 121v93M375.5 217v28M375.5 291v23M376.5 115v99M376.5 217v28M376.5 291v23M377.5 96v118M377.5 217v28M377.5 296v18M378.5 101v113M378.5 217v28M378.5 296v18M379.5 92v122M379.5 217v28M379.5 296v14M380.5 99v115M380.5 217v28M380.5 296v14M381.5 117v97M381.5 217v23M381.5 296v10M382.5 107v107M382.5 217v28M382.5 296v14M383.5 94v120M383.5 217v28M383.5 296v14M384.5 90v124M384.5 217v28M384.5 296v14M385.5 85v129M385.5 217v33M385.5 296v14M386.5 86v128M386.5 217v33M386.5 291v19M387.5 58v156M387.5 217v33M387.5 291v19M388.5 143v71M388.5 217v33M388.5 291v19M389.5 135v79M389.5 217v33M389.5 286v24M392.5 114v100M392.5 217v33M392.5 291v19M393.5 112v102M393.5 217v33M393.5 291v19M394.5 114v100M394.5 217v33M394.5 296v14M395.5 99v115M395.5 217v33M395.5 296v6M396.5 125v89M396.5 217v23M396.5 296v14M397.5 149v65M397.5 217v33M397.5 301v9M398.5 107v107M398.5 217v33M398.5 301v1M401.5 127v87M401.5 217v33M401.5 296v14M402.5 94v120M402.5 217v33M402.5 296v14M403.5 122v92M403.5 217v23M403.5 296v14M404.5 58v156M404.5 217v28M404.5 291v19M405.5 75v139M405.5 217v23M405.5 296v14M406.5 91v123M406.5 217v28M406.5 291v19M407.5 109v105M407.5 217v28M407.5 296v14M408.5 113v101M408.5 217v33M408.5 296v14M409.5 89v125M409.5 217v23M409.5 296v14M410.5 64v131M410.5 221v29M410.5 296v14M411.5 122v73M411.5 217v33M411.5 296v6M412.5 129v69M412.5 218v27M412.5 296v14M413.5 131v83M413.5 217v36M413.5 296v14M414.5 125v89M414.5 217v33M414.5 296v14M415.5 94v120M415.5 217v29M415.5 296v14M416.5 91v123M416.5 217v19M416.5 296v14M417.5 119v40M417.5 160v54M417.5 217v28M417.5 296v14M418.5 116v98M418.5 217v15M418.5 296v14M419.5 66v148M419.5 217v21M419.5 291v19M420.5 86v128M420.5 217v28M420.5 296v10M421.5 124v90M421.5 217v30M421.5 296v14M422.5 123v91M422.5 217v33M422.5 291v19M423.5 111v103M423.5 217v23M423.5 291v15M424.5 117v97M424.5 217v33M424.5 286v24M427.5 122v75M427.5 204v1M427.5 206v31M427.5 274v23M428.5 116v77M428.5 198v1M428.5 200v1M428.5 202v45M428.5 274v15M429.5 96v93M429.5 194v1M429.5 196v51M429.5 279v18M430.5 40v146M430.5 190v1M430.5 192v55M430.5 279v18M431.5 120v64M431.5 188v59M431.5 279v10M432.5 74v108M432.5 186v61M432.5 279v18M433.5 115v67M433.5 185v62M433.5 279v18M434.5 121v61M434.5 185v62M434.5 279v18M435.5 176v6M435.5 185v57M435.5 279v14M438.5 77v55M438.5 133v1M438.5 135v35M438.5 190v40M438.5 274v19M439.5 160v22M439.5 185v44M439.5 274v15M440.5 111v63M440.5 192v41M440.5 279v14M441.5 121v41M441.5 196v37M441.5 274v19M442.5 110v18M442.5 129v46M442.5 191v44M442.5 274v11M443.5 197v34M443.5 274v15M444.5 124v2M444.5 128v54M444.5 185v40M444.5 274v19M445.5 94v26M445.5 121v3M445.5 126v44M445.5 194v29M445.5 274v19M446.5 130v40M446.5 196v29M446.5 274v19M447.5 101v22M447.5 126v42M447.5 204v30M447.5 274v19M448.5 80v46M448.5 128v2M448.5 131v51M448.5 185v48M448.5 274v15M449.5 102v21M449.5 127v39M449.5 198v31M449.5 274v19M450.5 114v7M450.5 123v59M450.5 185v50M450.5 274v11M451.5 135v47M451.5 185v51M451.5 279v14M452.5 147v35M452.5 185v54M452.5 284v9M453.5 157v25M453.5 185v50M453.5 284v5M454.5 137v45M454.5 185v55M454.5 279v14M455.5 140v42M455.5 185v52M455.5 279v14M456.5 158v24M456.5 185v47M456.5 279v10M457.5 104v17M457.5 122v2M457.5 126v56M457.5 185v52M457.5 279v14M458.5 190v37M458.5 279v14M459.5 195v64M459.5 262v31M460.5 181v1M460.5 185v69M460.5 255v3M460.5 262v35M461.5 111v71M461.5 185v72M461.5 260v37M462.5 136v46M462.5 185v73M462.5 261v36M463.5 92v33M463.5 127v55M463.5 185v73M463.5 261v36M464.5 112v57M464.5 181v1M464.5 185v74M464.5 264v33M465.5 171v1M465.5 185v77M465.5 265v2M465.5 268v29M466.5 123v45M466.5 186v78M466.5 267v30M467.5 113v58M467.5 181v1M467.5 185v79M467.5 268v29M468.5 154v28M468.5 185v77M468.5 266v31M469.5 128v54M469.5 185v76M469.5 265v32M472.5 123v59M472.5 185v47M472.5 279v10M473.5 120v62M473.5 185v57M473.5 279v18M474.5 115v11M474.5 128v54M474.5 185v57M474.5 279v18M475.5 117v8M475.5 127v55M475.5 185v57M475.5 279v18M476.5 199v33M476.5 284v13M477.5 185v52M477.5 284v13M478.5 92v30M478.5 124v58M478.5 185v57M478.5 284v5M479.5 62v60M479.5 123v5M479.5 129v2M479.5 132v50M479.5 185v57M479.5 279v14M481.5 142v40M481.5 185v52M481.5 279v10M482.5 127v55M482.5 185v52M482.5 279v18M483.5 86v36M483.5 123v59M483.5 185v52M483.5 284v13M484.5 87v35M484.5 124v58M484.5 185v71M484.5 258v31M485.5 132v50M485.5 185v71M485.5 258v39M486.5 134v48M486.5 185v71M486.5 260v37M487.5 105v18M487.5 126v56M487.5 185v70M487.5 258v39M488.5 126v56M488.5 185v69M488.5 257v40M489.5 101v21M489.5 123v3M489.5 128v54M489.5 185v57M489.5 279v18M490.5 123v2M490.5 126v1M490.5 129v53M490.5 185v47M490.5 279v18M491.5 108v74M491.5 185v57M491.5 279v18M492.5 116v10M492.5 128v54M492.5 185v50M492.5 284v13M493.5 131v51M493.5 185v56M493.5 279v18M494.5 144v38M494.5 185v57M494.5 279v14M495.5 136v46M495.5 185v48M495.5 279v18M496.5 199v38M496.5 279v18M497.5 133v35M497.5 208v24M497.5 284v9M498.5 129v40M498.5 205v27M498.5 284v5M499.5 115v12M499.5 129v51M499.5 198v31M499.5 284v13M500.5 53v78M500.5 132v47M500.5 197v40M500.5 284v13M501.5 123v7M501.5 131v1M501.5 133v49M501.5 185v60M501.5 284v13M502.5 116v15M502.5 132v3M502.5 137v2M502.5 140v32M502.5 190v45M502.5 289v8M503.5 178v4M503.5 185v57M503.5 284v13M504.5 138v44M504.5 185v57M504.5 284v13M505.5 81v52M505.5 134v48M505.5 185v52M505.5 284v13M508.5 168v14M508.5 185v52M508.5 279v18M509.5 122v60M509.5 185v52M509.5 279v18M510.5 88v33M510.5 123v59M510.5 185v52M510.5 279v18M511.5 96v86M511.5 185v52M511.5 279v18M512.5 144v38M512.5 185v52M512.5 279v18M513.5 130v52M513.5 185v52M513.5 279v18M514.5 132v50M514.5 185v52M514.5 279v14M515.5 142v40M515.5 185v57M515.5 279v14M516.5 190v52M516.5 279v10M519.5 194v48M519.5 279v14M520.5 126v42M520.5 188v49M520.5 284v13M521.5 137v35M521.5 190v44M521.5 279v18M522.5 133v49M522.5 185v51M522.5 279v18M523.5 108v16M523.5 125v4M523.5 131v31M523.5 192v49M523.5 284v13M524.5 137v45M524.5 185v41M524.5 284v13M525.5 88v36M525.5 125v2M525.5 129v36M525.5 191v47M525.5 279v18M526.5 91v35M526.5 127v3M526.5 132v36M526.5 188v49M526.5 279v18M527.5 129v31M527.5 202v35M527.5 279v22M528.5 133v37M528.5 188v41M528.5 279v22M529.5 207v34M529.5 279v22M530.5 122v2M530.5 125v35M530.5 196v40M530.5 279v22M531.5 123v3M531.5 127v35M531.5 192v42M531.5 279v22M532.5 127v55M532.5 185v52M532.5 279v22M533.5 109v7M533.5 117v3M533.5 122v60M533.5 185v51M533.5 274v19M534.5 95v24M534.5 120v2M534.5 124v58M534.5 185v47M534.5 274v23M535.5 119v63M535.5 185v57M535.5 279v18M536.5 118v1M536.5 121v61M536.5 185v57M536.5 279v18M537.5 96v22M537.5 119v63M537.5 185v57M537.5 279v14M538.5 127v55M538.5 185v52M538.5 279v10M539.5 122v60M539.5 185v52M539.5 279v18M540.5 149v33M540.5 185v57M540.5 279v18M541.5 125v2M541.5 128v54M541.5 185v72M541.5 261v36M542.5 130v52M542.5 185v74M542.5 262v3M542.5 266v23M543.5 170v12M543.5 185v75M543.5 264v33M544.5 105v15M544.5 122v60M544.5 185v75M544.5 263v34M545.5 108v74M545.5 185v77M545.5 265v24M546.5 185v79M546.5 267v30M547.5 146v36M547.5 185v80M547.5 268v29M548.5 94v31M548.5 127v55M548.5 185v77M548.5 263v1M548.5 267v30M549.5 122v60M549.5 185v62M549.5 279v18M550.5 156v26M550.5 185v57M550.5 279v10M553.5 116v66M553.5 185v62M553.5 279v18M554.5 92v31M554.5 124v58M554.5 185v62M554.5 279v18M555.5 124v58M555.5 185v62M555.5 279v18M556.5 126v1M556.5 128v54M556.5 185v62M556.5 289v8M557.5 120v3M557.5 124v58M557.5 185v62M557.5 284v9M558.5 55v127M558.5 185v57M558.5 284v5M559.5 93v27M559.5 122v60M559.5 185v57M559.5 284v13M562.5 117v1M562.5 119v1M562.5 122v60M562.5 185v57M562.5 289v8M563.5 175v7M563.5 185v62M563.5 289v8M564.5 97v85M564.5 185v62M564.5 284v9M565.5 123v59M565.5 185v57M565.5 289v4M566.5 121v2M566.5 124v25M566.5 150v32M566.5 185v67M566.5 284v1M567.5 89v36M567.5 127v55M567.5 185v62M567.5 279v10M568.5 117v3M568.5 121v3M568.5 125v57M568.5 185v57M568.5 279v14M569.5 125v57M569.5 185v62M569.5 279v14M570.5 116v8M570.5 125v57M570.5 185v55M570.5 284v5M571.5 115v8M571.5 125v57M571.5 185v39M571.5 279v14M572.5 122v60M572.5 185v37M572.5 279v18M573.5 148v34M573.5 185v41M573.5 279v18M574.5 117v9M574.5 128v54M574.5 185v42M574.5 279v10M575.5 122v3M575.5 127v2M575.5 130v52M575.5 185v40M575.5 279v18M576.5 119v6M576.5 126v56M576.5 185v43M576.5 284v13M577.5 70v54M577.5 125v2M577.5 128v47M577.5 201v20M577.5 279v18M578.5 67v101M578.5 198v36M578.5 284v9M579.5 123v48M579.5 197v38M579.5 279v18M580.5 129v44M580.5 199v41M580.5 274v19M581.5 128v41M581.5 211v26M581.5 274v23M582.5 102v73M582.5 195v42M582.5 274v23M583.5 97v37M583.5 136v46M583.5 185v52M583.5 274v15M584.5 90v92M584.5 185v52M584.5 274v19M585.5 114v26M585.5 142v31M585.5 195v37M585.5 274v23M589.5 114v100M589.5 217v29M589.5 285v22M590.5 132v82M590.5 217v19M590.5 285v22M591.5 107v107M591.5 217v34M591.5 280v27M592.5 133v81M592.5 217v34M592.5 280v27M593.5 102v112M593.5 217v34M593.5 280v23M594.5 111v103M594.5 217v34M594.5 285v22M595.5 130v84M595.5 217v29M595.5 285v14M596.5 83v131M596.5 217v34M596.5 285v18M599.5 116v98M599.5 217v34M599.5 285v22M600.5 100v114M600.5 217v34M600.5 285v22M601.5 129v85M601.5 217v34M601.5 290v17M602.5 130v84M602.5 217v34M602.5 290v17M603.5 127v87M603.5 217v34M603.5 295v12M604.5 120v94M604.5 217v24M604.5 290v17M605.5 109v105M605.5 217v34M605.5 290v17M606.5 106v108M606.5 217v29M606.5 290v17M607.5 100v94M607.5 210v4M607.5 217v32M607.5 295v12M608.5 115v99M608.5 217v27M608.5 290v17M609.5 118v67M609.5 211v3M609.5 217v28M609.5 290v17M610.5 98v93M610.5 203v11M610.5 217v23M610.5 290v17M611.5 58v156M611.5 217v26M611.5 290v9M612.5 78v70M612.5 149v47M612.5 210v4M612.5 217v28M612.5 290v17M613.5 72v123M613.5 211v3M613.5 217v24M613.5 290v17M614.5 79v110M614.5 203v11M614.5 217v21M614.5 290v17M615.5 83v111M615.5 208v6M615.5 217v27M615.5 290v9M616.5 120v94M616.5 217v23M616.5 290v17M617.5 92v122M617.5 217v27M617.5 295v8M618.5 109v105M618.5 217v29M618.5 285v22M619.5 131v83M619.5 217v29M619.5 285v22M620.5 65v149M620.5 217v24M620.5 285v22M621.5 89v125M621.5 217v29M621.5 285v18M622.5 85v129M622.5 217v29M622.5 285v18M623.5 69v145M623.5 217v29M623.5 285v18M624.5 58v156M624.5 217v34M624.5 285v18M625.5 91v123M625.5 217v34M625.5 285v14M626.5 58v156M626.5 217v34M626.5 290v5M627.5 58v156M627.5 217v34M627.5 285v18M628.5 127v87M628.5 217v24M628.5 285v18M629.5 107v107M629.5 217v34M629.5 285v22M630.5 119v95M630.5 217v34M630.5 285v22M631.5 109v105M631.5 217v29M631.5 285v22M634.5 104v110M634.5 217v34M634.5 285v22M635.5 107v107M635.5 217v34M635.5 290v13M636.5 108v106M636.5 217v34M636.5 285v22M637.5 102v112M637.5 217v24M637.5 285v22M638.5 103v111M638.5 217v34M638.5 290v13M639.5 108v106M639.5 217v34M639.5 290v17M640.5 134v80M640.5 217v24M640.5 290v17M643.5 78v136M643.5 217v34M643.5 290v9M644.5 102v112M644.5 217v24M644.5 290v13M645.5 74v140M645.5 217v34M645.5 290v17M646.5 65v149M646.5 217v29M646.5 295v8M647.5 89v124M647.5 229v12M647.5 290v17M648.5 106v108M648.5 217v7M648.5 234v17M648.5 295v12M649.5 110v104M649.5 231v20M649.5 295v12M650.5 88v126M650.5 217v29M650.5 295v8M651.5 88v126M651.5 217v28M651.5 295v12M652.5 119v95M652.5 217v29M652.5 295v4M653.5 114v100M653.5 217v24M653.5 295v12M654.5 78v136M654.5 217v25M654.5 295v12M655.5 114v100M655.5 217v18M655.5 295v12M656.5 116v83M656.5 217v15M656.5 295v12M657.5 152v48M657.5 218v32M657.5 295v12M658.5 71v123M658.5 224v22M658.5 295v12M659.5 107v84M659.5 213v1M659.5 217v38M659.5 290v9M660.5 112v76M660.5 220v36M660.5 290v9M661.5 113v81M661.5 210v4M661.5 217v39M661.5 290v17M662.5 110v87M662.5 221v25M662.5 290v17M663.5 106v108M663.5 217v39M663.5 290v17M664.5 74v128M664.5 217v29M664.5 290v17M665.5 109v88M665.5 213v1M665.5 217v39M665.5 290v2M665.5 293v14M666.5 66v148M666.5 217v39M666.5 290v13M667.5 105v109M667.5 217v39M667.5 290v9M668.5 62v153M668.5 217v39M668.5 290v17M669.5 107v109M669.5 218v38M669.5 290v17M678.5 264v34M679.5 264v4M679.5 269v7M679.5 277v2M679.5 280v20M680.5 264v8M680.5 273v26M686.5 315v2M687.5 318v1M688.5 321v1M689.5 324v2M692.5 334v2"/>
<path stroke="#0080ff" d="M143.5 272v6M152.5 264v4M152.5 270v7M174.5 266v4M174.5 272v3M200.5 263v4M204.5 272v15M205.5 269v5M208.5 272v17M250.5 271v6M252.5 271v14M265.5 271v16M269.5 265v1M269.5 269v2M272.5 271v5M302.5 272v4M327.5 269v16M352.5 272v15M369.5 272v1M369.5 274v7M372.5 272v6M382.5 272v8M387.5 268v2M387.5 273v5M406.5 274v11M415.5 264v3M415.5 270v10M453.5 272v7M457.5 265v14M530.5 268v11M531.5 266v3M539.5 268v11M550.5 270v9M564.5 272v12M569.5 272v7M593.5 274v6M601.5 272v9M602.5 269v12M617.5 275v12M620.5 274v9M654.5 256v11M658.5 256v11M658.5 270v1M661.5 261v9M662.5 258v10M663.5 273v12M664.5 256v13M664.5 272v2M669.5 262v5M669.5 268v1"/>
</g>
<g shape-rendering="crispEdges">
<rect x="740" y="35" width="13" height="19" fill="#400000"/><rect x="740" y="54" width="13" height="18" fill="#800000"/><rect x="740" y="72" width="13" height="19" fill="#c00000"/><rect x="740" y="91" width="13" height="22" fill="#ff0000"/><rect x="740" y="113" width="13" height="18" fill="#ff4000"/><rect x="740" y="131" width="13" height="18" fill="#ff8000"/><rect x="740" y="149" width="13" height="19" fill="#ffc000"/><rect x="740" y="168" width="13" height="21" fill="#ffff00"/><rect x="740" y="189" width="13" height="19" fill="#c0ff00"/><rect x="740" y="208" width="13" height="18" fill="#80ff00"/><rect x="740" y="226" width="13" height="19" fill="#40ff00"/><rect x="740" y="245" width="13" height="21" fill="#00ff00"/><rect x="740" y="266" width="13" height="19" fill="#00ff40"/><rect x="740" y="285" width="13" height="18" fill="#00ff80"/><rect x="740" y="303" width="13" height="19" fill="#00ffc0"/><rect x="740" y="322" width="13" height="21" fill="#00ffff"/><rect x="740" y="343" width="13" height="19" fill="#00c0ff"/><rect x="740" y="362" width="13" height="18" fill="#0080ff"/><rect x="740" y="380" width="13" height="19" fill="#0040ff"/><rect x="740" y="399" width="13" height="21" fill="#0000ff"/><rect x="740" y="420" width="13" height="19" fill="#0000c0"/><rect x="740" y="439" width="13" height="18" fill="#000080"/><rect x="740" y="457" width="13" height="19" fill="#000040"/><rect x="740" y="476" width="13" height="21" fill="#000000"/>
<rect x="62" y="35" width="640" height="461" fill="none" stroke="#000" stroke-width="2"/>
<path stroke="#000" stroke-width="1" d="M63 473.5h5M63 450.5h12M63 427.5h5M63 404.5h12M63 381.5h5M63 358.5h12M63 335.5h5M63 312.5h12M63 289.5h5M63 266.5h12M63 242.5h5M63 219.5h12M63 196.5h5M63 173.5h12M63 150.5h5M63 127.5h12M63 104.5h5M63 81.5h12M63 58.5h5M701 461.5h-5M701 426.5h-12M701 391.5h-5M701 355.5h-12M701 320.5h-5M701 285.5h-12M701 250.5h-5M701 215.5h-12M701 180.5h-5M701 145.5h-12M701 110.5h-5M701 74.5h-12M701 39.5h-5M135.5 36v12M135.5 495v-12M208.5 36v12M208.5 495v-12M281.5 36v12M281.5 495v-12M355.5 36v12M355.5 495v-12M428.5 36v12M428.5 495v-12M501.5 36v12M501.5 495v-12M574.5 36v12M574.5 495v-12M647.5 36v12M647.5 495v-12"/>
</g>
<text x="45.4" y="500.9" text-anchor="middle" class="t">0</text>
<text x="45.4" y="454.8" text-anchor="middle" class="t">2</text>
<text x="45.4" y="408.7" text-anchor="middle" class="t">4</text>
<text x="45.4" y="362.6" text-anchor="middle" class="t">6</text>
<text x="45.4" y="316.5" text-anchor="middle" class="t">8</text>
<text x="45.4" y="270.4" text-anchor="middle" class="t">10</text>
<text x="45.4" y="224.3" text-anchor="middle" class="t">12</text>
<text x="45.4" y="178.2" text-anchor="middle" class="t">14</text>
<text x="45.4" y="132.1" text-anchor="middle" class="t">16</text>
<text x="45.4" y="86.0" text-anchor="middle" class="t">18</text>
<text x="45.4" y="39.9" text-anchor="middle" class="t">20</text>
<text x="715.8" y="500.7" text-anchor="middle" class="t">0</text>
<text x="715.8" y="430.4" text-anchor="middle" class="t">10</text>
<text x="715.8" y="360.2" text-anchor="middle" class="t">20</text>
<text x="715.8" y="289.9" text-anchor="middle" class="t">30</text>
<text x="715.8" y="219.7" text-anchor="middle" class="t">40</text>
<text x="715.8" y="149.4" text-anchor="middle" class="t">50</text>
<text x="715.8" y="79.1" text-anchor="middle" class="t">60</text>
<text x="62.0" y="521" text-anchor="middle" class="t">20</text>
<text x="208.3" y="521" text-anchor="middle" class="t">28</text>
<text x="354.6" y="521" text-anchor="middle" class="t">36</text>
<text x="500.9" y="521" text-anchor="middle" class="t">44</text>
<text x="647.1" y="521" text-anchor="middle" class="t">52</text>
<text x="756.3" y="40.9" class="t">320</text>
<text x="756.3" y="71.6" class="t">310</text>
<text x="756.3" y="102.3" class="t">300</text>
<text x="756.3" y="133.0" class="t">290</text>
<text x="756.3" y="163.7" class="t">280</text>
<text x="756.3" y="194.5" class="t">270</text>
<text x="756.3" y="225.2" class="t">260</text>
<text x="756.3" y="255.9" class="t">250</text>
<text x="756.3" y="286.6" class="t">240</text>
<text x="756.3" y="317.3" class="t">230</text>
<text x="756.3" y="348.0" class="t">220</text>
<text x="756.3" y="378.7" class="t">210</text>
<text x="756.3" y="409.4" class="t">200</text>
<text x="756.3" y="440.1" class="t">190</text>
<text x="756.3" y="470.8" class="t">180</text>
<text x="756.3" y="501.6" class="t">170</text>
<text x="62" y="28.4" class="b">JPL Microwave Temperature Profiler (MTP)</text>
<text x="701.5" y="28.4" text-anchor="end" class="b" xml:space="preserve" style="white-space:pre">DEEPWAVE  Flight Date: 20140630</text>
<text x="31.4" y="539.5" class="b">km</text>
<text x="381.5" y="539.5" text-anchor="middle" textLength="150" class="b">Universal Time [ks]</text>
<text x="710.8" y="539.5" class="b">kft</text>
<text x="756.8" y="539.5" textLength="30.6" lengthAdjust="spacingAndGlyphs" class="b">T[K]</text>
<text transform="translate(22.2 219.3) rotate(-90) scale(0.955 1)" text-anchor="middle" class="p">Pressure Altitude</text>
</svg>
</body></html>
